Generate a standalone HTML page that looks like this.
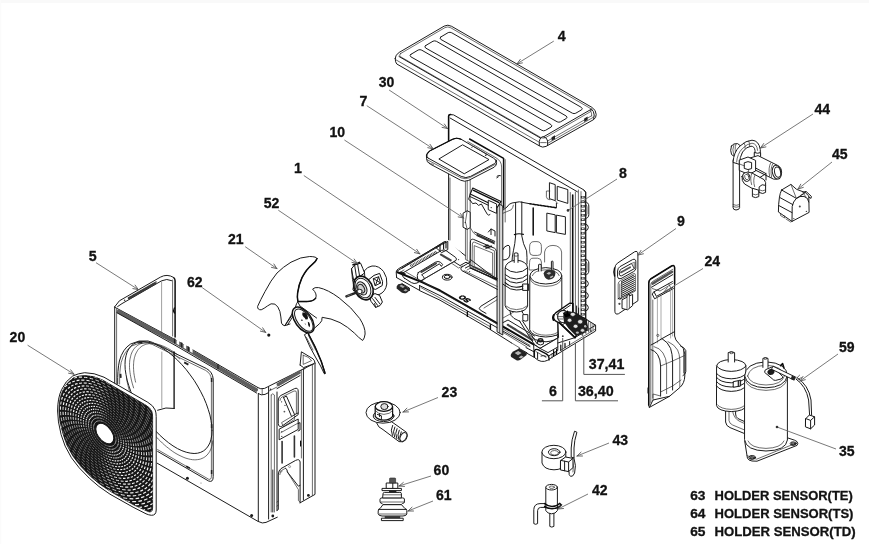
<!DOCTYPE html>
<html><head><meta charset="utf-8"><title>Exploded view</title>
<style>
html,body{margin:0;padding:0;background:#fff;}
body{width:869px;height:544px;overflow:hidden;font-family:"Liberation Sans",sans-serif;}
svg{display:block;filter:blur(0.3px);}
.l{fill:none;stroke:#1c1c1c;stroke-width:1;stroke-linecap:round;stroke-linejoin:round;}
.t{fill:none;stroke:#2e2e2e;stroke-width:0.7;stroke-linecap:round;stroke-linejoin:round;}
.k{fill:none;stroke:#0c0c0c;stroke-width:1.5;stroke-linecap:round;stroke-linejoin:round;}
.w{fill:#fff;stroke:#1c1c1c;stroke-width:1;stroke-linecap:round;stroke-linejoin:round;}
.wt{fill:#fff;stroke:#2e2e2e;stroke-width:0.7;stroke-linecap:round;stroke-linejoin:round;}
.ld{fill:none;stroke:#6a6a6a;stroke-width:0.9;}
.ah{fill:none;stroke:#555;stroke-width:0.9;stroke-linecap:round;}
.u{fill:none;stroke:#555;stroke-width:1;}
text{font-family:"Liberation Sans",sans-serif;font-weight:bold;fill:#121212;stroke:#121212;stroke-width:0.3px;}
.n{font-size:14.2px;}
.h{font-size:13px;}
</style></head><body>
<svg width="869" height="544" viewBox="0 0 869 544">
<rect x="0" y="0" width="869" height="544" fill="#fff"/>
<rect x="0" y="0" width="869" height="3" fill="#f9f9f9"/><rect x="0" y="0" width="1.2" height="544" fill="#fbfbfb"/>
<!-- 10_panel4.svg -->
<g id="p4">
<!-- outer silhouette -->
<path class="w" d="M395.2 58.5 Q395 55 399.2 52.4 L444.2 26.1 Q447.8 24.2 451.6 26.3 L591.8 107.3 Q596.2 110 596.2 114.5 Q596.2 118 593.6 119.6 L546 146.4 Q542.5 148 539.6 146 L396.8 64 Q395.2 62.5 395.2 58.5Z"/>
<!-- top face inner edge -->
<path class="t" d="M400.5 53.6 L445 27.6 Q447.8 26.2 450.8 27.8 L590.2 108.3 Q592.6 110 590.6 111.6 L545.6 137.6 Q543 138.8 540.6 137.4 L400.3 56.6 Q398.6 55.2 400.5 53.6Z"/>
<!-- left-bottom side lines -->
<path class="l" d="M399 56.5 L540.8 138.2"/>
<path class="t" d="M396.2 60 L539.2 142.2"/>
<!-- bottom corner cap -->
<path class="l" d="M539.3 145.6 V141.5 Q540 137 543.4 136.6 Q547.2 137.6 547.6 141 V145.4"/>
<path class="t" d="M540.6 142.6 H546.2"/>
<!-- front (right-bottom) side lines -->
<path class="l" d="M543.6 136.8 L591 109.4"/>
<path class="t" d="M547.6 141 L591.6 115.8"/>
<path class="t" d="M547.6 143.4 L593.8 117"/>
<!-- right corner cap -->
<path class="l" d="M591.2 108.6 Q594.2 111.5 594.2 115 L593.6 119.4"/>
<path class="t" d="M590.4 110.4 Q592 113 591.8 116"/>
<!-- small clips -->
<path d="M551.6 137.2 l3.4 -1.9 v3.6 l-3.4 1.9z" fill="#222"/>
<path d="M584.2 118.4 l3.4 -1.9 v3.6 l-3.4 1.9z" fill="#222"/>
<!-- ribs -->
<path class="l" d="M440.8 37 L448.2 32.6 Q450 31.8 451.8 32.8 L581.4 107.4 Q583 108.6 581.6 109.8 L575.8 113.2 Q574 114 572.4 113.2 L440.8 39.4 Q439.2 38.2 440.8 37Z"/>
<path class="l" d="M425.6 45.6 L433 41.2 Q434.8 40.4 436.6 41.4 L566.2 116 Q567.8 117.2 566.4 118.4 L560.6 121.8 Q558.8 122.6 557.2 121.8 L425.6 48 Q424 46.8 425.6 45.6Z"/>
<path class="l" d="M410.8 54.4 L418.2 50 Q420 49.2 421.8 50.2 L551 124.6 Q552.6 125.8 551.2 127 L545.4 130.4 Q543.6 131.2 542 130.4 L410.8 56.8 Q409.2 55.6 410.8 54.4Z"/>
</g>

<!-- 20_main_a.svg -->
<g id="main-back">
<!-- back plate 30 -->
<path class="w" d="M448.6 243 V116.2 Q448.6 114.4 450.4 114.6 L453.6 114.9 L583.8 189.9 L585.6 192 V330 L573 337 L448.6 243Z"/>
<path class="k" d="M448.6 141 V116 Q448.7 114.5 450.6 114.6" />
<path class="l" d="M450.2 118.1 L577.4 191.8"/>
<path class="t" d="M448.6 141 V243"/>
<!-- right compartment inner wall details -->
<path class="l" d="M502.6 210.4 L507 207 Q509 203.5 512 203 L519.4 201.8 L530 203.8"/>
<path class="k" d="M530 203.8 L556.4 207.8" style="stroke-dasharray:2.2 1.2"/>
<path class="l" d="M556.4 207.8 V203.2"/>

<path class="l" d="M515.6 202.4 V236 Q515 244 513.4 250.8 Q512 257 511.9 263"/>
<path class="l" d="M521.8 201.8 V236 Q523 244 526.6 250.8 Q527.2 257 527 264"/>
<path class="k" d="M533.2 208 V235" style="stroke-width:1.5"/>
<path class="k" d="M514.4 234.6 Q518.6 233 523.4 234.4" style="stroke-width:1.2"/>
<path class="l" d="M502.6 250 Q504 246 508 245.2 Q510 245.6 509.8 248 V255 Q509.4 258.6 506 259.6 L502.6 260"/>
<path class="t" d="M502.6 213.4 L511.2 209.8 Q513 208 513.4 205.2"/>
<!-- rectangular openings -->
<path class="l" d="M547.2 213.2 L555.2 214.8 V232.6 L547.2 231 Z"/>
<path class="l" d="M556.8 215.2 L565.4 216.8 V234.4 L556.8 232.8 Z"/>
<!-- flaps -->
<path class="l" d="M549.8 182.8 L555.2 184.6 V200.6 L549.8 198.8 Z"/>
<path class="t" d="M549.8 191 H546.4 V196.8 Q546.6 199.6 549.8 199.8"/>
<path class="l" d="M557.6 186.4 L567.8 189.6 V203.4 L557.6 200.2 Z"/>
<path class="t" d="M555.2 200.6 L557.6 203.4 "/>
<!-- rounded slots lower -->
<path class="t" d="M529.6 246.5 Q529.6 241.6 534 241.6 H537 Q541.4 241.8 541.4 246.6 V252 Q541.4 255.6 537.6 255.4 H533 Q529.6 255.2 529.6 252Z"/>
<path class="t" d="M529.6 262 Q529.6 258.2 533 258.2 H537.6 Q541.4 258.4 541.4 262 V270 H529.6Z"/>
<path class="t" d="M544.6 262 V252 Q546 245.4 553 245.4 Q560.6 245.6 561.6 252 V270"/>
<!-- end plate verticals -->
<path class="t" d="M570.3 192.5 V322"/>
<path class="k" d="M572.7 195 V312" style="stroke-width:1.6"/>
<path class="t" d="M575.4 192 V318"/>
<path class="t" d="M578.4 190 V320"/>
</g>

<!-- 22_main_base.svg -->
<g id="base1">
<!-- base pan silhouette (white to cover back plate bottom) -->
<path d="M396.2 272 Q396.4 270 398.4 268.8 L445.8 241.4 L448.6 240 L470 262 L497.4 289 L503 300 L530 300 L560 300 L585.6 322 L594 321.6 Q596.6 323 596 326.4 L595.4 330.6 L550.6 358.2 Q543.6 362.4 537.4 358.6 L527 352.6 L511.6 343 L419.6 290.6 L396.6 277.6Z" fill="#fff"/>
<path class="l" d="M445.8 241.4 L398.4 268.8 Q396.4 270 396.2 272 L396.6 277.6"/>
<!-- back-left rim -->
<path class="l" d="M396.9 271.2 L444.4 241.6"/>
<path class="l" d="M402.2 268.2 L438.9 246.2"/>
<path class="k" d="M410.4 266 L437 251.6" style="stroke-dasharray:0.8 0.8;stroke-width:2.6;stroke:#333;stroke-linecap:butt"/>
<path class="t" d="M399.6 272.6 L404 270"/>
<!-- corner box -->
<path class="l" d="M436.4 247.6 L441.6 244.6 L447.8 241.4 V249.6 L442 252.4 Z"/>
<path class="k" d="M440 245.6 V250.4 M443.6 243.6 V249 M446 242.4 V248" style="stroke-width:1.1"/>
<path d="M399 272.4 q1.6 -1.4 3.6 -0.6 l3.4 2 l-1.2 1.8 l-5 -2z" fill="#2a2a2a"/>
<!-- left block -->
<path class="l" d="M396.6 277.6 L419.6 290.4 V285.4"/>
<path class="k" d="M397.5 272.2 L422.4 282.4 L440 290.5 L486 316.8 L534 344.6" style="stroke-width:2"/>
<path class="l" d="M419.6 285.6 L440 295.6 L490 323.6 L530 346.6"/>
<path class="l" d="M419.6 290.6 L440 300.2 L467 315.6 M468.4 316.6 L489.6 329 M491 330 L511.6 343"/>
<path class="t" d="M421 287.6 L467 313 M468.6 314.4 L490 326.6"/>
<path class="k" d="M467.4 311.6 V316.4 M490.4 324.6 V329.6" style="stroke-width:1.4"/>
<circle cx="404.6" cy="278.4" r="0.6" fill="#333"/>
<!-- left foot -->
<path d="M398.2 284.2 Q396 285.8 396.6 288.6 L401.6 292.6 Q404.6 294.2 407.2 292.4 L409.4 290.6 L409.2 288.6 L402 283.6Z" fill="#262626"/>
<path d="M399.4 286 l3.4 2 l2 -1.2 l-3.4 -2z M403.4 290.4 l2.2 -1.4 l2.2 1.2 l-2.2 1.4z" fill="#aaa"/>
<path class="l" d="M402 283.6 L409.4 288 V290.6"/>
<!-- inner rim front-left (floor edge) -->
<path class="t" d="M406 272 L425 283"/>
<!-- drain trough area -->
<path class="l" d="M403.4 272.6 L441.6 250.4 Q444.6 249.2 446.6 251 L455.6 257.4 Q457.6 259.2 455.4 260.8 L417 283 Q414 284.2 411.4 282.6 L403.6 277.6 Q400.8 275.2 403.4 272.6Z"/>
<path class="l" d="M418.2 272.6 L435.4 262.2 Q438.2 260.8 440.4 262.2 L442.6 264.4 L441.4 266.4 L439.4 263.8 L421.6 274.8 Q424 276.4 424.4 278.8 L422.6 280.6 Q418.8 281.8 417.6 279 Q416.6 275.2 418.2 272.6Z"/>
<path class="k" d="M421.4 272 L436 263.4" style="stroke-dasharray:0.7 0.8;stroke-width:2;stroke:#444"/>
<path class="k" d="M441 254.6 L451.2 260.6" style="stroke-dasharray:0.7 0.8;stroke-width:2.2;stroke:#444"/>
<path class="t" d="M424.4 278.8 L456 260.4"/>
<path class="l" d="M454.4 262 L460 265.6 L466 262.2 L470 264.4"/>
<path class="t" d="M452.4 263.8 L458.6 268 L462.6 266"/>
<circle cx="458.6" cy="259.6" r="0.6" fill="#333"/>
<!-- hole on floor -->
<ellipse cx="447.2" cy="277.2" rx="4.8" ry="2.9" class="l"/>
<ellipse cx="447.2" cy="276.8" rx="3" ry="1.7" class="k" style="stroke-width:1"/>
<!-- OS mark -->
<text x="0" y="0" transform="matrix(-0.86 -0.5 0.86 -0.5 471.6 300.2)" style="font-size:7.6px;fill:#000;stroke:#000;stroke-width:0.5px">SO</text>
<!-- floor lines -->
<path class="t" d="M425 283 L497.4 324"/>
<path class="l" d="M497.4 296 L480.6 306.4 Q478 308.6 480.4 310.2 L486 313.4"/>
<path class="t" d="M497.4 299.6 L484 308"/>
</g>

<!-- 24_main_bracket.svg -->
<g id="bracket10">
<!-- box behind lid: thick top-back edge and right vertical -->
<path class="k" d="M469.6 139 L503.6 158.4 V208" style="stroke-width:1.5"/>
<path class="t" d="M467.8 141.6 L496 157.8 Q501.6 161 501.6 167 V205"/>
<path class="t" d="M505.2 159.6 V222"/>
<path class="l" d="M498.4 176.8 l-1.6 1 M497 176.2 q1.6 -1.4 3.4 -0.6"/>
<!-- under lid: back plate left edge doubles -->
<path class="t" d="M450 178 V240"/>
<!-- left upright -->
<path class="wt" d="M465.8 180 H470.2 V262 L465.8 259.6Z"/>
<path class="t" d="M467.2 181 V260"/>
<!-- right upright -->
<path class="w" d="M497.4 203 L502.8 206 V335 L497.4 332Z" style="fill:#d8d8d8"/>
<path class="t" d="M499.6 204 V333"/>
<!-- top beam -->
<path class="w" d="M470.2 194 L472.8 188 L501 201.4 L497.4 207.2 L470.2 194Z" style="stroke:#111;stroke-width:1.1"/>
<path class="k" d="M473.6 190.4 L498.6 202.4" style="stroke-width:1.6"/>
<path class="l" d="M470.2 194 L468.6 199.4 L470.4 200.6 M470.2 196.6 L488.6 205.4"/>
<!-- right tab -->
<path class="w" d="M488.6 200.4 L496.6 204 V213.4 L488.6 209.8Z"/>
<circle cx="491.2" cy="207.6" r="0.7" fill="#222"/>
<!-- curvy cut-out edge -->
<path class="l" d="M470.4 200.5 L472.6 203.6 L476 203 L478.6 205.4 L481.4 204 L484.8 210 L487.4 214.4 Q488.6 216 490 214.6"/>
<!-- left tab (label 10) -->
<path class="w" d="M463.4 213 L467.2 210.8 L470.2 212.2 V227.6 L467.2 229.4 L463.4 227.4Z"/>
<path class="t" d="M467.2 210.8 L465.4 222 L467.2 229.4"/>
<circle cx="465.2" cy="222.6" r="0.7" fill="#222"/>
<!-- wire curve -->
<path class="t" d="M470.4 228 Q473 234 478 236.4"/>
<!-- comb beam -->
<path class="l" d="M474.6 232 L494.8 241.4"/>
<path d="M476.6 233.6 L494.6 242 V245 L476.6 236.6Z" fill="#333"/>
<path class="t" d="M476.6 237.4 L494.6 245.8" style="stroke-dasharray:0.9 0.9;stroke:#fff;stroke-width:2.4"/>
<path class="l" d="M488.4 232 L491 229 L495 231 V236 M491 229 V234.6"/>
<path class="k" d="M484 246.6 l4 -1.4 M486 248 l5.4 -1.8"/>
<!-- lower frame opening -->
<path class="l" d="M470.4 241.6 Q470.6 238.4 473.6 239.4 L494.4 248.2 Q496.4 249.2 496.4 251.6 V279.4 L470.4 268Z"/>
<path class="t" d="M472.4 243.6 Q472.6 241.4 474.6 242.2 L494.4 250.8 V276.6 L472.4 267Z"/>
<path class="t" d="M474.2 246 V266.4 L492.6 274.6 V253.4Z"/>
<path class="k" d="M470.4 268 L496.4 279.4" style="stroke-width:1.2"/>
<!-- foot plate of bracket -->
<path class="l" d="M470.2 262 L461.6 267.2 Q459.8 268.8 461.8 270.6 L497.4 289.4"/>
<path class="l" d="M465.4 268 L470.6 265.2 L497.4 278.6"/>
<path class="t" d="M467 270 L471.4 267.6 L497.4 281"/>
<path class="t" d="M464 270.6 L497.4 286.6"/>
<circle cx="469.6" cy="271.6" r="0.6" fill="#222"/>
</g>

<!-- 26_main_comp.svg -->
<g id="inside-comp">
<!-- floor right compartment: rims -->
<path class="l" d="M503 322.6 L508 320 L534.6 336 "/>
<path class="k" d="M507.8 324.8 L532.4 340" style="stroke-dasharray:0.7 0.8;stroke-width:2.2;stroke:#444"/>
<path class="t" d="M503 329 L530 345.4"/>
<path class="t" d="M503 332.4 L527 347"/>
<path class="t" d="M503 318 L519 309 "/>
<!-- accumulator -->
<path class="w" d="M505.2 268 Q505.6 261.4 516.4 260 Q527.2 261.4 527.6 268 V306 Q526 311.6 516.4 312 Q506.6 311.6 505.2 306Z"/>
<path class="w" d="M514.2 262.4 V253.4 Q516 252.2 518 253.4 V262.4"/>
<path class="t" d="M514.2 255.8 Q516 256.8 518 255.8"/>
<path class="l" d="M505.2 268 Q510 272.4 516.4 272.4 Q523 272.4 527.6 268"/>
<path class="l" d="M505.2 274.6 Q510 279 516.4 279 Q523 279 527.6 274.6"/>
<path class="l" d="M505.2 278.6 Q510 283 516.4 283 Q523 283 527.6 278.6"/>
<path class="k" d="M505.2 282.6 Q510 287.2 516.4 287.2 Q520 287.2 523 286" style="stroke-width:1.1"/>
<path class="l" d="M505.2 285.6 Q510 290 516.4 290 Q520 290 523 289"/>
<path class="l" d="M523 284 H528.6 V290.4 H523Z"/>
<path class="t" d="M506 306 Q510 309.6 516.4 309.6 Q523 309.6 527 306"/>
<!-- accumulator bottom pipes -->
<path class="l" d="M510 311.4 Q510 316 514 318.4 L520 321.4"/>
<path class="l" d="M522 311 Q522 313.6 524 314.6"/>
<path class="w" d="M523.2 314.6 H527.8 V320.6 Q525.4 321.8 523.2 320.6Z"/>
<!-- compressor -->
<path class="w" d="M529.8 276 Q530 268.6 545.8 267.6 Q561.6 268.6 561.8 276 V330 Q560 336.4 545.8 337 Q531.6 336.4 529.8 330Z"/>
<path class="l" d="M529.8 276 Q531.6 283.6 545.8 284 Q560 283.6 561.8 276"/>
<path class="t" d="M529.8 278.4 Q531.6 286 545.8 286.4 Q560 286 561.8 278.4"/>
<path class="t" d="M532.4 275.6 Q534 270.2 545.8 269.8 Q557.6 270.2 559.2 275.6"/>
<path class="w" d="M538.6 271 V264.6 Q539.8 263.8 541.2 264.6 V271"/>
<path class="w" d="M551.4 269.6 V261.4 Q552.2 260.8 553 261.4 V269.6"/>
<path d="M543.6 273.4 Q544.6 269.8 549.6 269.6 L554.6 270.6 Q556 272.6 555 275.6 Q553.6 279.4 548.6 279.8 Q544.4 278.6 543.6 273.4Z" fill="#2d2d2d"/>
<path d="M546.4 273.4 l2.6 -1.4 l2.4 1 l-2.4 1.8z M549.6 277 l3 -1.6 l0.8 1.2 l-2.6 1.6z" fill="#bbb"/>
<path class="t" d="M533 331 Q536 335 545.8 335.2 Q556 335 559 331"/>
<!-- compressor base plate & legs -->
<path class="l" d="M519.4 320.8 L534.8 345.2 M522.4 320.8 L537 343.6"/>
<path class="l" d="M528.6 334 Q534 341.6 546 341.8 Q555 341 559.4 336.6"/>
<path class="l" d="M534.6 344.6 L540 348.4 L558.6 337.6 L556.8 335.4"/>
<path d="M537.6 340.2 a2.9 2.2 0 1 0 5.8 0 a2.9 2.2 0 1 0 -5.8 0z" fill="#1a1a1a"/>
<path d="M539.2 339.8 a1.3 0.8 0 1 0 2.6 0 a1.3 0.8 0 1 0 -2.6 0z" fill="#888"/>
<path class="l" d="M537.6 341 V344 Q540.4 346 543.4 344 V341"/>
</g>

<!-- 28_main_right.svg -->
<g id="main-right">
<!-- end plate right strip and coil -->
<path class="l" d="M583.8 190 L585.8 192.4 V320"/>
<path class="t" d="M581 191.6 V318"/>
<path d="M582.8 196 V322" stroke="#303030" stroke-width="4" stroke-dasharray="2.4 2.1" fill="none"/>
<path d="M582.8 196.6 V322" stroke="#f0f0f0" stroke-width="1.7" stroke-dasharray="1.2 3.3" fill="none"/>
<path class="l" d="M585 201.8 Q588.8 202.4 588.8 206 V214.6 Q588.8 218.2 585 218.6"/>
<path class="t" d="M585 204 Q587 204.4 587 207 V213.6 Q587 216 585 216.4"/>
<path class="l" d="M585 223.8 Q588.4 224.6 588.4 227.4 Q588.4 230.4 585 231"/>
<path class="l" d="M585 259 Q588.8 259.6 588.8 263 V271 Q588.8 274.6 585 275"/>
<path class="t" d="M585 261 Q587 261.6 587 264 V270 Q587 272.6 585 273"/>
<path class="l" d="M585 280 Q588.4 280.8 588.4 283.6 Q588.4 286.6 585 287.2"/>
<path class="l" d="M585 292 Q588.4 292.8 588.4 295.6 Q588.4 298.6 585 299.2"/>
<path class="l" d="M585 304 Q588.4 304.8 588.4 307.6 Q588.4 310.6 585 311.2"/>
<!-- front corner of base and right-front face -->
<path class="w" d="M534 344.6 L540 348.4 L558.6 337.6 L557.8 322.6 L560 322.6 L575 337.6 L586.6 319.6 L595.6 325.2 V331 L551 358 Q544.4 363.6 538 360.2 L534.4 357.4Z"/>
<path class="k" d="M534.4 357 V351.6 Q534.6 348.6 538 349.6 L545.8 353.6 Q549 355.4 549 358 V360" style="stroke-width:1.3"/>
<path class="l" d="M537.6 352.6 V358.6 M541 356 Q543.6 354.6 546 356.4"/>
<path class="t" d="M536 351.6 L546 357.4"/>
<path class="l" d="M540 348.4 L548 352.6 L557.8 347"/>
<path class="l" d="M548.6 356 L557.8 350.4 V322.6"/>
<path class="t" d="M552 353.8 V358 M555 352 V355.6"/>
<path class="l" d="M557.8 343 L575 337.6 L595.6 325.2"/>
<path class="t" d="M560.8 350.2 L595.6 329"/>
<path class="k" d="M553.6 350.6 V356 M556.6 349 V354.4 M560.8 345 V350.4 M565 343.4 V347.6" style="stroke-width:1.2"/>
<path class="l" d="M569.6 341.6 V345"/>
<circle cx="562.8" cy="336.2" r="0.9" fill="#333"/>
<!-- bracket plate -->
<path class="w" d="M553.6 317.4 Q553.4 314.6 556 312.6 L569.6 303.2 L572.8 303.4 V312 L586.6 319.6 L575 337.6 L559.6 322.8 Q554 321.4 553.6 317.4Z" style="stroke:#0c0c0c;stroke-width:1.3"/>
<path class="l" d="M556.6 314.6 L570.4 305.2 M558 318.6 Q557.6 313.6 562.4 310.4"/>
<path class="k" d="M559.6 322.8 L575 337.6" style="stroke-width:1.8"/>
<path class="l" d="M562 325.2 L565.6 322.6 L578.4 335"/>
<path class="k" d="M553.8 314.8 q-1.8 2.4 -0.4 5.4" style="stroke-width:1.6"/>
<!-- valve body big -->
<ellipse cx="563.2" cy="316.6" rx="5.6" ry="6.2" class="w" style="stroke-width:1.1"/>
<path class="t" d="M557.8 316.6 H563 M558 319 H562.6"/>
<!-- dark cluster -->
<path d="M563.6 312.6 Q566.6 309.8 570.4 311.6 L577 313 L586.6 320.6 L588.8 329.4 L583.6 333.6 L576 336 L568.6 328.6 L564 322 Q562.6 317 563.6 312.6Z" fill="#1e1e1e"/>
<path d="M565.6 317.2 l-3 -4.6 l3.6 1.6 l1.2 -4.4 l1.4 4.2 l3.8 -1.4 l-2.8 3.6z" fill="#000"/>
<ellipse cx="572.8" cy="314.3" rx="2.5" ry="2.1" fill="#e4e4e4" stroke="#111" stroke-width="0.6"/>
<ellipse cx="569.6" cy="320.3" rx="2.3" ry="2" fill="#e4e4e4" stroke="#111" stroke-width="0.6"/>
<ellipse cx="580.2" cy="321.7" rx="2.6" ry="2.2" fill="#e4e4e4" stroke="#111" stroke-width="0.6"/>
<ellipse cx="575.6" cy="326.3" rx="2.4" ry="2" fill="#e4e4e4" stroke="#111" stroke-width="0.6"/>
<ellipse cx="582.5" cy="330.4" rx="2.2" ry="1.8" fill="#dcdcdc" stroke="#111" stroke-width="0.6"/>
<ellipse cx="577.4" cy="332.6" rx="1.5" ry="1.2" fill="#bbb"/>
<ellipse cx="585.4" cy="326.2" rx="1.4" ry="1.2" fill="#bbb"/>
<!-- pipes up from valves -->
<path class="k" d="M572.8 303.4 V312" style="stroke-width:1.3"/>
<path class="l" d="M576.6 306 V314 M578.6 308 V316" />
<!-- right plate holes -->
<path class="l" d="M586.6 319.6 V326"/>
<path class="t" d="M588.6 321 V332 M590.8 322.4 V331 M593 323.8 V329.6"/>
<path d="M587.2 327.4 l1.8 1.1 v2.8 l-1.8 -1.1z M589.8 329 l1.8 1.1 v2.4 l-1.8 -1.1z M584.4 330.8 l2 1.2 v2 l-2 -1.2z M581.2 333.2 l2 1.2 v1.8 l-2 -1.2z" fill="#555"/>
<path class="l" d="M526.8 353.2 L534.4 357.4 M526 347.6 L534.4 352"/>
<!-- right foot -->
<path d="M513.2 351.4 L519 348.4 L526.8 353 L526.6 355 L520.4 359.8 Q518.2 361.2 516 360 L511.2 357 Q509.6 354.8 513.2 351.4Z" fill="#242424"/>
<path d="M514.6 353 l3.6 -2 l3.4 2 l-3.6 2.2z M518.6 357.4 l2.6 -1.8 l2.4 1.2 l-2.6 1.8z" fill="#b5b5b5"/>
<path class="t" d="M511.6 343 L519.6 347.8"/>
<path class="l" d="M519 348.4 L527 352.8"/>
</g>

<!-- 40_lid7.svg -->
<g id="lid7">
<!-- underside / thickness -->
<path class="w" d="M426.4 156 Q426.2 158.8 427.4 161.6 Q428.6 163.2 430.4 164.2 L460.6 180.2 Q464.6 182.2 468.6 180.4 L494.2 167.2 Q496.8 165.4 496.6 162.4 L496.4 160 L426.4 156Z"/>
<path class="t" d="M427 159.6 L461 177.8 Q465 179.6 469.4 177.8 L496 164"/>
<path class="t" d="M428 162 Q429.8 164 433.4 164.4"/>
<!-- top face -->
<path class="w" d="M428 158 Q425 156 427.8 153.2 Q428.6 151.6 430.6 150.4 L452.2 139.4 Q456.6 137.2 461 139.2 L493.6 158.2 Q497.6 160.8 494.6 163.6 L470.6 176.4 Q465.8 178.8 461.2 176.4 L428 158Z"/>
<path class="k" d="M426.8 156.4 Q426.2 154 428.6 152 Q429.6 151 430.6 150.4 L452.2 139.4 Q456.6 137.2 461 139.2" style="stroke-width:1.1"/>
<!-- inner square -->
<path class="l" d="M439.2 158.8 L462.6 144.8 L489 159.6 L464.6 173.6Z"/>
<path class="t" d="M471.6 147.4 L473.4 146.4 L486.8 154.2 L485.6 155.2"/>
<circle cx="485.8" cy="155.2" r="0.7" fill="#222"/>
</g>

<!-- 50_cabinet5.svg -->
<g id="cab5">
<path d="M114.7 307 L119.2 301 L160.3 277.2 Q166.8 273.6 173.9 277.9 L175.1 280 V337 L257.7 387.6 L262.2 389 L300.1 365.1 L301.4 351.6 L313 358.7 L315 362 V494.4 L300.1 502.8 V460 L278 472 V517 L262.8 523.6 L258 521.4 L157 463 L114.7 439Z" fill="#fff"/>
<path class="l" d="M114.7 306.8 L119.4 300.8 L160.3 277.2 Q167 273.4 173.6 277.4" />
<path class="l" d="M117.6 306.6 L122 303.6 L161.6 280.8 Q166.8 278.2 171.6 280.6" />
<path class="k" d="M129 298.2 L155.4 283" stroke-linecap="butt" style="stroke-dasharray:0.9 0.8;stroke-width:2.6;stroke:#3a3a3a"/>
<circle cx="124.6" cy="300.2" r="0.8" fill="#333"/><circle cx="156" cy="282" r="0.8" fill="#333"/>
<path class="k" d="M173.9 277.9 Q175 278.6 175.1 281 V337" style="stroke-width:1.5"/>
<path class="t" d="M172.6 280 V336" />
<path class="k" d="M174.4 308 q-1.4 2.4 0 5" style="stroke-width:1.4"/>
<path class="t" d="M161.6 281.6 V332.6" style="stroke:#777"/>
<path class="l" d="M114.7 307 V395" />
<path class="t" d="M116.6 309 V395" />
<path class="l" d="M114.7 307.2 L175 339.6 L257.6 387.4" />
<path class="k" d="M118.6 311.6 L178 343.6 L256 389.8" stroke-linecap="butt" style="stroke-dasharray:0.9 0.8;stroke-width:4;stroke:#5e5e5e"/>
<path class="l" d="M117 312.8 L176 345.8 L256.6 393" />
<path d="M176.6 339.4 l2.6 1.5 v4.4 l-2.6 -1.5z M183.6 343.4 l2.6 1.5 v4.4 l-2.6 -1.5z M190 347 l2.6 1.5 v4.4 l-2.6 -1.5z" fill="#fff"/>
<path d="M174.6 338.6 v5 M181.6 342.6 v5 M188.4 346.4 v5 M218 364 v5" stroke="#222" stroke-width="1.3"/>
<path class="l" d="M157.2 463.2 L258 521.4 Q262.6 524 266 522.4 L277.3 517.2" />
<circle cx="187.4" cy="478.2" r="1.5" fill="#1a1a1a"/><circle cx="251.6" cy="515.6" r="1.5" fill="#1a1a1a"/><circle cx="201" cy="483" r="0.5" fill="#555"/>
<path class="l" d="M117.7 384 Q117.4 370 119.4 361 Q122.6 349 130.6 344 Q139 339.6 148 341 L152.5 342.4 L206.5 368.6 Q212.6 372 213.2 379 V476.6 Q213.2 482.8 208.6 481 L157.6 451.4" />
<path class="t" d="M119.6 384 Q119.4 371 121.2 362.4 Q124.2 351.2 131.6 346 Q139.4 341.8 147.6 343 L152.2 344.4 L205.6 370.4 Q211 373.4 211.4 379.6 V476 Q211.4 480.2 208.6 479.2 L157.6 449.6" />
<path class="l" d="M212.0 430.5 L211.8 435.0 L211.0 439.2 L209.9 442.9 L208.2 446.0 L206.2 448.7 L203.7 450.8 L200.8 452.3 L197.6 453.2 L194.1 453.5 L190.2 453.1 L186.2 452.2 L181.9 450.7 L177.5 448.6 L173.0 445.9 L168.5 442.7 L164.0 439.0 L159.5 434.9 L155.1 430.3 L150.8 425.4 L146.8 420.1 L142.9 414.7 L139.4 409.0 L136.2 403.2 L133.3 397.4 L130.8 391.5 L128.8 385.7 L127.1 380.1 L126.0 374.6 L125.2 369.4 L125.0 364.5 L125.2 360.0 L126.0 355.8 L127.1 352.1 L128.8 349.0 L130.8 346.3 L133.3 344.2 L136.2 342.7 L139.4 341.8 L142.9 341.5 L146.7 341.9 L150.8 342.8 L155.1 344.3 L159.5 346.4 L164.0 349.1 L168.5 352.3 L173.0 356.0 L177.5 360.1 L181.9 364.7 L186.2 369.6 L190.2 374.9 L194.1 380.3 L197.6 386.0 L200.8 391.8 L203.7 397.6 L206.2 403.5 L208.2 409.3 L209.9 414.9 L211.0 420.4 L211.8 425.6 L212.0 430.5" />
<path class="t" d="M212.8 440.9 L212.5 442.9 L212.2 444.8 L211.7 446.5 L211.2 448.2 L210.5 449.8 L209.8 451.3 L208.9 452.7 L208.0 453.9 L207.0 455.1 L205.9 456.1 L204.7 457.0 L203.4 457.8 L202.1 458.4 L200.6 459.0 L199.1 459.4 L197.6 459.6 L195.9 459.8 L194.3 459.8 L192.5 459.7 L190.7 459.4 L188.9 459.0 L187.0 458.5 L185.0 457.9 L183.1 457.1 L181.1 456.2 L179.0 455.2 L177.0 454.1 L174.9 452.9 L172.8 451.5 L170.7 450.0 L168.7 448.4 L166.6 446.8 L164.5 445.0 L162.4 443.1 L160.4 441.1 L158.3 439.1 L156.3 437.0 L154.3 434.7 L152.4 432.5 L150.5 430.1 L148.6 427.7 L146.8 425.2 L145.1 422.7 L143.4 420.1 L141.7 417.5 L140.1 414.9 L138.6 412.2 L137.2 409.5 L135.8 406.8 L134.6 404.1 L133.3 401.4 L132.2 398.7 L131.2 396.0 L130.2 393.4 L129.4 390.7 L128.6 388.1 L128.0 385.5 L127.4 383.0 L126.9 380.5 L126.5 378.0" />
<path class="t" d="M133.6 387.9 L133.0 385.9 L132.4 383.9 L131.9 382.0 L131.4 380.1 L131.0 378.2 L130.6 376.3 L130.3 374.5 L130.0 372.7 L129.8 370.9 L129.6 369.1 L129.5 367.4 L129.5 365.8 L129.5 364.2 L129.6 362.6 L129.7 361.1 L129.9 359.6 L130.2 358.2 L130.5 356.8 L130.8 355.5 L131.2 354.2 L131.7 353.0 L132.2 351.8 L132.8 350.8 L133.4 349.7 L134.1 348.8 L134.8 347.9 L135.6 347.1 L136.4 346.3 L137.3 345.6 L138.2 345.0 L139.2 344.4 L140.2 343.9 L141.2 343.5 L142.3 343.2 L143.5 342.9 L144.6 342.7 L145.9 342.6 L147.1 342.5 L148.4 342.6 L149.7 342.7 L151.0 342.8 L152.4 343.1 L153.8 343.4 L155.2 343.8 L156.7 344.2 L158.1 344.7 L159.6 345.3 L161.1 346.0 L162.6 346.7 L164.2 347.5 L165.7 348.4 L167.3 349.4 L168.8 350.4 L170.4 351.4 L172.0 352.5 L173.5 353.7 L175.1 355.0 L176.7 356.3 L178.2 357.6 L179.8 359.0" />
<path class="t" d="M135.6 382.1 L135.2 380.4 L134.9 378.8 L134.5 377.2 L134.3 375.6 L134.0 374.0 L133.8 372.4 L133.7 370.9 L133.6 369.4 L133.5 367.9 L133.5 366.5 L133.5 365.1 L133.6 363.7 L133.7 362.4 L133.8 361.1 L134.0 359.8 L134.3 358.6 L134.5 357.4 L134.9 356.3 L135.2 355.2 L135.6 354.1 L136.1 353.1 L136.6 352.2 L137.1 351.3 L137.6 350.4 L138.2 349.6 L138.9 348.8 L139.6 348.1 L140.3 347.4 L141.0 346.8 L141.8 346.2 L142.6 345.7 L143.5 345.3 L144.4 344.9 L145.3 344.5 L146.2 344.2 L147.2 344.0 L148.2 343.8 L149.3 343.6 L150.3 343.6 L151.4 343.5 L152.5 343.6 L153.7 343.7 L154.9 343.8 L156.0 344.0 L157.3 344.2 L158.5 344.6 L159.7 344.9 L161.0 345.3 L162.3 345.8 L163.6 346.3 L164.9 346.9 L166.2 347.5 L167.5 348.2 L168.8 348.9 L170.2 349.7 L171.5 350.5 L172.9 351.4 L174.3 352.3 L175.6 353.3 L177.0 354.3" />
<path d="M138.6 341.2 l4 0.6 l-0.4 2 l-4 -0.6z M184.6 361.6 l4.2 2.2 l-0.8 1.6 l-4.2 -2.2z M119.6 374 l1.8 -0.2 l0.3 4 l-1.8 0.2z M186.6 465.4 l3.6 2 l-0.8 1.6 l-3.6 -2z" fill="#222"/>
<path d="M211.6 378 v4 M211.6 424 v4 M211.6 470 v4" stroke="#222" stroke-width="1.5"/>
<path class="t" d="M161.8 352 V407.6" style="stroke:#777"/>
<path class="k" d="M174.1 352 V408.4" style="stroke-width:1.3"/>
<path class="l" d="M157.6 410.2 Q166 406.6 174.1 408.4" />
<path class="l" d="M257.7 387.6 Q260.6 389.6 264.6 388.4 L267.3 387 L313.7 363.8" />
<path class="l" d="M258.3 393.6 V521" />
<path class="l" d="M258.3 393.6 Q261 395.8 265 394.4 L268.6 392.6" />
<path class="t" d="M262.2 389 V394.6" />
<path class="l" d="M268.6 387 V519" />
<path class="k" d="M278.3 384.4 L299 372.4" stroke-linecap="butt" style="stroke-dasharray:0.9 0.8;stroke-width:3.6;stroke:#5e5e5e"/>
<path class="l" d="M277 388.6 L300 375.6" />
<path class="t" d="M269 391 L277 387" />
<path class="l" d="M300.1 365.1 L301.4 351.8 L313 358.8 Q315 360.4 315 363.4" />
<path class="t" d="M303.2 355.2 V364.4 L311.6 360.6 Q309 356.6 303.2 355.2" />
<path class="l" d="M300.1 365.1 L303.6 367.6 L313.7 363.8" />
<circle cx="304.6" cy="368.6" r="0.8" fill="#333"/><circle cx="270.6" cy="389.4" r="0.8" fill="#333"/>
<path class="l" d="M315 363 V494.4 L300.1 502.8" />
<path class="t" d="M312.4 365 V495.4" />
<path class="l" d="M303.4 369 V500" />
<path class="t" d="M301.4 370 V458" />
<path class="t" d="M271.2 395 Q272.8 392.4 274.4 395 V512" />
<path class="t" d="M271.2 395 V512" />
<path class="k" d="M272.8 470 V512" style="stroke-width:0.9"/>
<circle cx="272.8" cy="516" r="1.4" fill="#1a1a1a"/><circle cx="308.4" cy="495.4" r="1.4" fill="#1a1a1a"/>
<path class="l" d="M277 392 V510.4" />
<path class="l" d="M278.3 399.6 Q278.6 396.6 281 395.4 L294.6 388.6 Q298 387.2 298.2 391 V414.6 L281.6 426.4 Q278.6 427.4 278.3 424Z" />
<path class="t" d="M280 400.4 Q280.2 398 282 397 L294 391 Q296.4 390.2 296.4 392.6 V413.4" />
<path class="l" d="M283.6 397.6 L286.4 396 L294.6 414.6 L298 413 M283.6 397.6 L291.6 416.6 L294.6 414.6" />
<path class="t" d="M291.6 416.6 L281.6 422.6 L283 426 M294.6 414.6 V419.4 L283.4 426.6" />
<circle cx="281.6" cy="401.8" r="0.6" fill="#333"/><circle cx="285" cy="405.4" r="0.6" fill="#333"/><circle cx="284.4" cy="411.6" r="0.9" fill="#555"/>
<path class="l" d="M279.5 429 L298.2 419 V429.4 L279.5 439.6Z" />
<path class="t" d="M281 432.6 L298.2 423" />
<path class="l" d="M298.2 423.6 L300 422.6 V430 L298.2 431" />
<circle cx="281.8" cy="431.6" r="0.6" fill="#333"/><circle cx="281.8" cy="436.4" r="0.6" fill="#333"/>
<path class="k" d="M282.1 441.6 V463" style="stroke-width:1.6;stroke:#333"/>
<path class="k" d="M294.4 436 V457" style="stroke-width:1.6;stroke:#333"/>
<path class="k" d="M300.6 441 v5" style="stroke-width:1.2"/>
<path class="l" d="M277 510.4 L278.3 509.6 V474 Q278.6 470.6 281 468.6 L295.6 460.4 Q299.6 458.4 300.1 462 V502.8" />
<path class="t" d="M279.8 474.6 Q280 471.6 282 470.2 L285.6 468.2" />
<path class="l" d="M285.6 468.2 Q287.6 469.8 287.4 472 L298.4 486.2 L300 485.4" />
<path class="t" d="M287.4 472 L298.4 489.6 V500.6 L300 502" />
<circle cx="289.6" cy="466.6" r="1" fill="none" stroke="#444" stroke-width="0.5"/><circle cx="281" cy="471.4" r="0.9" fill="none" stroke="#444" stroke-width="0.5"/>
<path class="t" d="M277 502 l1.3 -0.8 M277 506 l1.3 -0.8" />
</g>
<!-- 55_fan21.svg -->
<g id="fan21">
<!-- blade 2 (right) -->
<path class="w" d="M297.9 301.6 L306.8 301.6 Q313 301.6 315.6 298.4 Q317.6 294 312.6 289.1 Q314.6 287 318.6 287.6 Q328 289.6 339.1 297.9 Q352 307.6 359.7 318.5 Q365.4 327.4 365.1 334 Q364.6 338.6 362.6 340.5 Q358.6 337.6 354.3 333 Q348 327 340 322.6 Q331 318.2 322.1 317.3 Q322.6 321 319.6 323.6 L313.6 329Z"/>
<!-- blade 1 (upper-left) -->
<path class="w" d="M317.1 258.4 Q316.6 256.6 309.7 256.5 Q301 256.6 291 262.2 Q283 267 277 273 Q271 280 265 291.6 Q260.4 300 257.6 306.4 Q257.4 310 261.2 309.8 Q264 308.6 267.4 306 Q271 302.6 274.9 304.1 Q278.4 306.4 279.9 311.5 Q281 316.6 281.5 323.1 Q282.4 325.6 284.9 325.6 L293.4 313.4 L296.5 303.8 L297.9 301.6 Q297 296.6 297.6 293 Q298.6 285 302 277.6 Q306 269.6 312.6 264.1 Q316.6 260.6 317.1 258.4Z"/>
<path class="k" d="M316.8 259 Q316 261.4 312.6 264.1 Q306 269.6 302 277.6 Q298.6 285 297.6 293 Q297 296.6 297.9 301.6 L306.8 301.6 Q313 301.6 315.6 298.4"/>
<!-- blade 3 (bottom, edge-on) -->
<path class="w" d="M304.6 335 L310 347 L316 358 L320.6 366 L324.2 373.6 Q325.4 374.8 325 372 L321.2 361.2 L314.8 346.4 L308 333Z"/>
<path class="k" d="M308.4 334 L314.8 346.4 L321.2 361.2 L324.9 373.4" style="stroke-width:1.5"/>
<path class="t" d="M306.4 337.4 L313 350 M308.6 335.6 L315.6 350"/>
<!-- root struts left of hub -->
<path class="l" d="M284.9 325.6 L293.4 311.6 M287.4 325 L295 313.4 M284.9 325.6 L290 324"/>
<!-- hub -->
<g transform="rotate(54 303.2 320)">
<ellipse cx="303.2" cy="320" rx="14.8" ry="8" class="w" style="stroke-width:1.5;stroke:#111"/>
<ellipse cx="303.6" cy="319.6" rx="13" ry="6.4" class="l"/>
</g>
<path d="M302.4 312.6 q3 -0.8 4.4 1.6 q1.6 2.6 1 5 l-2.2 0.4 q-0.6 -2 -2 -2.6 q-2 -1.8 -1.2 -4.4z" fill="#111"/>
<path d="M307.8 321.8 q1.8 0.4 2.2 2.6 q0.2 2 -0.8 2.8 q-1.4 -2.4 -1.4 -5.4z M301.6 319.2 q1.2 0.2 1.2 1.4 q-1 0.8 -1.6 -0.2z M304.6 323.4 q1.2 0 1.4 1 q-0.8 0.6 -1.4 -1z" fill="#111"/>
<path class="l" d="M301.4 307 L316.6 318"/>
<!-- screw 62 -->
<circle cx="268.8" cy="335.1" r="1.6" fill="#151515"/>
</g>

<!-- 56_motor52.svg -->
<g id="motor52">
<!-- rear body -->
<path class="w" d="M364.6 270.6 Q367 266.8 372 266 Q379 265.4 383.6 271.6 Q387.6 277.6 386.8 284 Q385.6 292 379.1 294.6 Q372 296 366 290Z"/>
<!-- top leg -->
<path class="w" d="M351.6 268.6 L354.6 265 L360.6 263.2 L362.8 268.4 L364.6 273 L359 277 L354 280Z" style="stroke:#111;stroke-width:1"/>
<path class="l" d="M354.6 265 L356.6 278 M357.6 264.2 L359.6 276"/>
<path class="k" d="M353 264.8 L356.8 263.6 L359.4 262.4" />
<!-- right leg -->
<path class="w" d="M368.2 280 L374 275.4 L379.6 273.4 L382.6 281.6 L382.2 285.6 L375.6 289.4 L370.2 288Z" style="stroke:#111;stroke-width:1"/>
<path class="l" d="M373.6 278.6 L378.6 276.8 L380.6 283 L375.4 285.6Z M373.6 278.6 L380.6 283 M378.6 276.8 L375.4 285.6"/>
<!-- bottom leg -->
<path class="w" d="M369.6 296 L375 293.6 L379.6 295.4 L382.4 302 L380 305.6 L375.6 307.4 L371.2 301.6Z" style="stroke:#111;stroke-width:1"/>
<path class="l" d="M372.6 298.6 L377.6 305.4 M375 297.4 L380 304 M375.6 307.4 L374.6 303.6"/>
<!-- front flange -->
<g transform="rotate(62 363.4 288)">
<ellipse cx="363.4" cy="288" rx="12.4" ry="9" class="w" style="stroke:#111;stroke-width:1.7"/>
<ellipse cx="363.2" cy="288.4" rx="10.4" ry="7.2" class="l"/>
<ellipse cx="363" cy="289.6" rx="7" ry="4.6" class="w" style="fill:#e4e4e4"/>
<ellipse cx="363" cy="290.2" rx="4.6" ry="3" class="l" style="fill:#cfcfcf"/>
</g>
<!-- shaft -->
<path d="M346.4 296.4 L359.6 291.4" stroke="#222" stroke-width="2.4" stroke-linecap="round" fill="none"/>
<path d="M346.8 296.2 L352 294.2" stroke="#999" stroke-width="1" stroke-dasharray="0.7 0.7" fill="none"/>
<path class="w" d="M356.6 290.6 q3 -2.4 5.4 -0.6 q0.6 2.4 -1.4 3.8 q-2.6 0.8 -4 -3.2z"/>
<path class="l" d="M353.2 287.6 q-1 2 0.4 3.4 M351.6 268.6 Q351.8 280 354.6 289"/>
</g>

<!-- 60_grille20.svg -->
<g id="grille20">
<defs><clipPath id="gclip"><path d="M73.2 378 Q78.6 375.6 84.7 375.6 Q93.6 375.6 102.6 380 L145.6 405 Q150.4 407.8 151.8 411.4 Q152.6 413.6 152.6 417 V508 Q152.6 512 150 512 Q148.4 511.8 146 510.6 L133.1 504.6 L110.8 491.6 Q98.8 484.2 90.4 476.2 Q79.6 466 73 456.2 Q65.8 445 63 433.8 Q59 421 59 411 Q59 398.6 62.8 390.4 Q66.4 382.6 73.2 378Z"/></clipPath></defs>
<path d="M72.7 376 Q78 373.4 84.7 372.7 Q94 372.6 104 377.2 L147.8 402.3 Q153.4 405.6 155.2 410 Q156.2 412.6 156.2 416.5 V510 Q156.2 515.4 151.4 515.3 Q148.6 515 146 513.8 L133.1 507.2 L110 494.2 Q98 486.6 89.4 478.3 Q78 467.6 71.4 457.7 Q64 446 61.1 434.6 Q57.6 421 57.6 411 Q57.6 398 61.6 389.6 Q65.4 381 72.7 376Z" fill="#fff" stroke="#1a1a1a" stroke-width="1"/>
<path d="M73.2 378 Q78.6 375.6 84.7 375.6 Q93.6 375.6 102.6 380 L145.6 405 Q150.4 407.8 151.8 411.4 Q152.6 413.6 152.6 417 V508 Q152.6 512 150 512 Q148.4 511.8 146 510.6 L133.1 504.6 L110.8 491.6 Q98.8 484.2 90.4 476.2 Q79.6 466 73 456.2 Q65.8 445 63 433.8 Q59 421 59 411 Q59 398.6 62.8 390.4 Q66.4 382.6 73.2 378Z" fill="#161616" stroke="#111" stroke-width="0.8"/>
<g clip-path="url(#gclip)" fill="none" stroke="#f2f2f2" stroke-linecap="butt">
<path stroke-width="0.4" d="M104.6 444.7Q104.2 444.5 103.8 444.2M103.3 443.9Q102.9 443.6 102.5 443.3M102.0 442.9Q101.6 442.6 101.2 442.2M100.7 441.8Q100.3 441.4 99.9 441.0M99.5 440.5Q99.1 440.1 98.7 439.7M98.3 439.2Q98.0 438.7 97.6 438.3M97.3 437.7Q96.9 437.3 96.7 436.8M96.3 436.2Q96.0 435.8 95.8 435.3M95.5 434.7Q95.3 434.2 95.1 433.8M94.8 433.2Q94.6 432.7 94.5 432.2M94.3 431.6Q94.1 431.2 94.0 430.7M105.0 422.5Q105.4 422.7 105.8 423.0M106.3 423.3Q106.7 423.6 107.1 423.9M107.6 424.3Q108.0 424.6 108.4 425.0M108.9 425.4Q109.3 425.8 109.7 426.2M110.1 426.7Q110.5 427.1 110.9 427.5M111.3 428.0Q111.6 428.5 112.0 428.9M112.3 429.5Q112.7 429.9 112.9 430.4M113.3 431.0Q113.6 431.4 113.8 431.9M114.1 432.5Q114.3 433.0 114.5 433.4M114.8 434.0Q115.0 434.5 115.1 435.0M115.3 435.6Q115.5 436.0 115.6 436.5M105.0 447.5Q104.5 447.2 104.0 446.9M103.4 446.5Q102.9 446.1 102.3 445.8M101.7 445.3Q101.2 444.9 100.7 444.5M100.1 444.0Q99.6 443.5 99.2 443.1M98.6 442.5Q98.1 442.0 97.7 441.5M97.2 440.8Q96.7 440.3 96.3 439.8M95.9 439.1Q95.5 438.6 95.1 438.0M94.7 437.3Q94.3 436.7 94.0 436.2M93.6 435.4Q93.3 434.9 93.0 434.3M92.7 433.5Q92.5 433.0 92.3 432.4M92.0 431.7Q91.8 431.1 91.7 430.5M104.6 419.7Q105.1 420.0 105.6 420.3M106.2 420.7Q106.7 421.1 107.3 421.4M107.9 421.9Q108.4 422.3 108.9 422.7M109.5 423.2Q110.0 423.7 110.4 424.1M111.0 424.7Q111.5 425.2 111.9 425.7M112.4 426.4Q112.9 426.9 113.3 427.4M113.7 428.1Q114.1 428.6 114.5 429.2M114.9 429.9Q115.3 430.5 115.6 431.0M116.0 431.8Q116.3 432.3 116.6 432.9M116.9 433.7Q117.1 434.2 117.3 434.8M117.6 435.5Q117.8 436.1 117.9 436.7M101.6 447.8Q101.0 447.4 100.4 446.9M99.7 446.3Q99.1 445.8 98.6 445.2M97.9 444.6Q97.3 444.0 96.8 443.4M96.2 442.7Q95.6 442.1 95.2 441.4M94.6 440.7Q94.1 440.0 93.6 439.3M93.1 438.5Q92.7 437.9 92.3 437.2M91.8 436.3Q91.5 435.6 91.1 434.9M90.7 434.1Q90.4 433.4 90.2 432.7M108.0 419.4Q108.6 419.8 109.2 420.3M109.9 420.9Q110.5 421.4 111.0 422.0M111.7 422.6Q112.3 423.2 112.8 423.8M113.4 424.5Q114.0 425.1 114.4 425.8M115.0 426.5Q115.5 427.2 116.0 427.9M116.5 428.7Q116.9 429.3 117.3 430.0M117.8 430.9Q118.1 431.6 118.5 432.3M118.9 433.1Q119.2 433.8 119.4 434.5M101.7 450.5Q101.0 450.0 100.3 449.4M99.5 448.8Q98.8 448.2 98.1 447.6M97.3 446.8Q96.7 446.2 96.1 445.5M95.3 444.7Q94.7 444.0 94.1 443.2M93.4 442.3Q92.8 441.6 92.3 440.9M91.7 439.9Q91.2 439.1 90.7 438.4M90.1 437.4Q89.7 436.6 89.3 435.8M88.8 434.8Q88.4 434.0 88.1 433.2M107.9 416.7Q108.6 417.2 109.3 417.8M110.1 418.4Q110.8 419.0 111.5 419.6M112.3 420.4Q112.9 421.0 113.5 421.7M114.3 422.5Q114.9 423.2 115.5 424.0M116.2 424.9Q116.8 425.6 117.3 426.3M117.9 427.3Q118.4 428.1 118.9 428.8M119.5 429.8Q119.9 430.6 120.3 431.4M120.8 432.4Q121.2 433.2 121.5 434.0M101.9 453.2Q101.1 452.7 100.3 452.1M99.4 451.3Q98.6 450.7 97.8 450.0M96.9 449.2Q96.2 448.4 95.4 447.7M94.6 446.8Q93.9 446.0 93.2 445.2M92.4 444.2Q91.7 443.4 91.1 442.5M90.4 441.5Q89.8 440.6 89.2 439.7M88.6 438.6Q88.0 437.7 87.6 436.8M87.0 435.7Q86.6 434.8 86.2 433.9M85.7 432.8Q85.3 431.8 85.0 430.9M107.7 414.0Q108.5 414.5 109.3 415.1M110.2 415.9Q111.0 416.5 111.8 417.2M112.7 418.0Q113.4 418.8 114.2 419.5M115.0 420.4Q115.7 421.2 116.4 422.0M117.2 423.0Q117.9 423.8 118.5 424.7M119.2 425.7Q119.8 426.6 120.4 427.5M121.0 428.6Q121.6 429.5 122.0 430.4M122.6 431.5Q123.0 432.4 123.4 433.3M123.9 434.4Q124.3 435.4 124.6 436.3M102.3 456.0Q101.4 455.4 100.5 454.8M99.4 454.0Q98.5 453.3 97.7 452.6M96.6 451.6Q95.8 450.9 95.0 450.0M94.0 449.0Q93.2 448.2 92.4 447.3M91.5 446.2Q90.7 445.3 90.0 444.3M89.2 443.2Q88.5 442.2 87.9 441.2M87.1 440.0Q86.5 439.0 85.9 438.0M85.3 436.8Q84.8 435.7 84.3 434.7M83.8 433.5Q83.3 432.4 83.0 431.4M107.3 411.2Q108.2 411.8 109.1 412.4M110.2 413.2Q111.1 413.9 111.9 414.6M113.0 415.6Q113.8 416.3 114.6 417.2M115.6 418.2Q116.4 419.0 117.2 419.9M118.1 421.0Q118.9 421.9 119.6 422.9M120.4 424.0Q121.1 425.0 121.7 426.0M122.5 427.2Q123.1 428.2 123.7 429.2M124.3 430.4Q124.8 431.5 125.3 432.5M125.8 433.7Q126.3 434.8 126.6 435.8M99.6 456.7Q98.6 456.0 97.7 455.2M96.5 454.2Q95.6 453.4 94.7 452.5M93.5 451.4Q92.6 450.5 91.8 449.5M90.7 448.3Q89.9 447.3 89.1 446.3M88.1 445.0Q87.4 444.0 86.6 442.9M85.8 441.6Q85.1 440.5 84.4 439.4M83.7 438.0Q83.1 436.9 82.5 435.7M81.9 434.4Q81.4 433.2 81.0 432.1M110.0 410.5Q111.0 411.2 111.9 412.0M113.1 413.0Q114.0 413.8 114.9 414.7M116.1 415.8Q117.0 416.7 117.8 417.7M118.9 418.9Q119.7 419.9 120.5 420.9M121.5 422.2Q122.2 423.2 123.0 424.3M123.8 425.6Q124.5 426.7 125.2 427.8M125.9 429.2Q126.5 430.3 127.1 431.5M127.7 432.8Q128.2 434.0 128.6 435.1M100.0 459.6Q98.9 458.8 97.8 458.0M96.5 456.9Q95.5 456.0 94.5 455.1M93.2 453.9Q92.2 452.9 91.3 451.9M90.1 450.6Q89.2 449.5 88.3 448.4M87.2 447.0Q86.3 445.9 85.5 444.7M84.5 443.3Q83.8 442.1 83.0 440.9M82.2 439.4Q81.5 438.2 80.9 436.9M80.2 435.4Q79.6 434.2 79.1 432.9M109.6 407.6Q110.7 408.4 111.8 409.2M113.1 410.3Q114.1 411.2 115.1 412.1M116.4 413.3Q117.4 414.3 118.3 415.3M119.5 416.6Q120.4 417.7 121.3 418.8M122.4 420.2Q123.3 421.3 124.1 422.5M125.1 423.9Q125.8 425.1 126.6 426.3M127.4 427.8Q128.1 429.0 128.7 430.3M129.4 431.8Q130.0 433.0 130.5 434.3M100.5 462.5Q99.3 461.7 98.1 460.8M96.7 459.7Q95.6 458.8 94.5 457.8M93.1 456.5Q92.0 455.5 90.9 454.4M89.6 453.0Q88.6 451.9 87.6 450.7M86.4 449.2Q85.5 448.0 84.5 446.7M83.5 445.2Q82.6 443.9 81.8 442.6M80.8 441.0Q80.0 439.6 79.3 438.3M78.5 436.6Q77.8 435.3 77.3 433.9M76.6 432.3Q76.0 430.9 75.6 429.6M109.1 404.7Q110.3 405.5 111.5 406.4M112.9 407.5Q114.0 408.4 115.1 409.4M116.5 410.7Q117.6 411.7 118.7 412.8M120.0 414.2Q121.0 415.3 122.0 416.5M123.2 418.0Q124.1 419.2 125.1 420.5M126.1 422.0Q127.0 423.3 127.8 424.6M128.8 426.2Q129.6 427.6 130.3 428.9M131.1 430.6Q131.8 431.9 132.3 433.3M133.0 434.9Q133.6 436.3 134.0 437.6M101.1 465.5Q99.9 464.7 98.6 463.8M97.1 462.6Q95.8 461.6 94.6 460.6M93.1 459.3Q91.9 458.2 90.7 457.0M89.3 455.5Q88.2 454.3 87.1 453.1M85.8 451.5Q84.7 450.2 83.7 448.8M82.5 447.2Q81.5 445.8 80.6 444.4M79.5 442.7Q78.7 441.3 77.9 439.8M77.0 438.0Q76.2 436.6 75.6 435.1M74.8 433.3Q74.2 431.9 73.6 430.4M108.5 401.7Q109.7 402.5 111.0 403.4M112.5 404.6Q113.8 405.6 115.0 406.6M116.5 407.9Q117.7 409.0 118.9 410.2M120.3 411.7Q121.4 412.9 122.5 414.1M123.8 415.7Q124.9 417.0 125.9 418.4M127.1 420.0Q128.1 421.4 129.0 422.8M130.1 424.5Q130.9 425.9 131.7 427.4M132.6 429.2Q133.4 430.6 134.0 432.1M134.8 433.9Q135.4 435.3 136.0 436.8M101.9 468.6Q100.6 467.8 99.2 466.8M97.6 465.6Q96.2 464.6 94.9 463.5M93.3 462.1Q92.0 461.0 90.7 459.7M89.2 458.2Q87.9 456.9 86.7 455.6M85.3 453.9Q84.1 452.6 83.0 451.1M81.7 449.4Q80.6 447.9 79.6 446.4M78.4 444.6Q77.4 443.1 76.6 441.5M75.5 439.6Q74.7 438.1 73.9 436.5M73.1 434.6Q72.4 433.0 71.8 431.4M107.7 398.6Q109.0 399.4 110.4 400.4M112.0 401.6Q113.4 402.6 114.7 403.7M116.3 405.1Q117.6 406.2 118.9 407.5M120.4 409.0Q121.7 410.3 122.9 411.6M124.3 413.3Q125.5 414.6 126.6 416.1M127.9 417.8Q129.0 419.3 130.0 420.8M131.2 422.6Q132.2 424.1 133.0 425.7M134.1 427.6Q134.9 429.1 135.7 430.7M136.5 432.6Q137.2 434.2 137.8 435.8M98.2 468.7Q96.8 467.6 95.3 466.5M93.6 465.0Q92.2 463.9 90.8 462.6M89.1 461.0Q87.8 459.6 86.5 458.2M84.9 456.5Q83.6 455.1 82.4 453.6M81.0 451.7Q79.8 450.2 78.7 448.6M77.4 446.6Q76.3 445.0 75.4 443.4M74.2 441.4Q73.3 439.7 72.4 438.0M71.5 436.0Q70.7 434.3 70.0 432.6M111.4 398.5Q112.8 399.6 114.3 400.7M116.0 402.2Q117.4 403.3 118.8 404.6M120.5 406.2Q121.8 407.6 123.1 409.0M124.7 410.7Q126.0 412.1 127.2 413.6M128.6 415.5Q129.8 417.0 130.9 418.6M132.2 420.6Q133.3 422.2 134.2 423.8M135.4 425.8Q136.3 427.5 137.2 429.2M138.1 431.2Q138.9 432.9 139.6 434.6M99.0 471.8Q97.5 470.7 95.9 469.6M94.1 468.1Q92.5 466.9 91.1 465.5M89.3 463.9Q87.8 462.5 86.4 461.0M84.7 459.2Q83.3 457.7 82.0 456.1M80.4 454.2Q79.2 452.5 78.0 450.9M76.5 448.8Q75.4 447.1 74.3 445.4M73.0 443.3Q72.0 441.5 71.1 439.7M70.0 437.6Q69.1 435.8 68.3 434.0M67.4 431.8Q66.7 430.0 66.1 428.2M110.6 395.4Q112.1 396.5 113.7 397.6M115.5 399.1Q117.1 400.3 118.5 401.7M120.3 403.3Q121.8 404.7 123.2 406.2M124.9 408.0Q126.3 409.5 127.6 411.1M129.2 413.0Q130.4 414.7 131.6 416.3M133.1 418.4Q134.2 420.1 135.3 421.8M136.6 423.9Q137.6 425.7 138.5 427.5M139.6 429.6Q140.5 431.4 141.3 433.2M142.2 435.4Q142.9 437.2 143.5 439.0M100.0 475.0Q98.3 473.9 96.7 472.7M94.7 471.2Q93.1 469.9 91.5 468.6M89.6 466.9Q88.0 465.4 86.5 463.9M84.6 462.0Q83.2 460.4 81.7 458.8M80.0 456.8Q78.7 455.1 77.3 453.3M75.8 451.2Q74.5 449.4 73.3 447.6M71.9 445.3Q70.8 443.5 69.8 441.6M68.6 439.3Q67.6 437.4 66.8 435.5M65.8 433.2Q65.0 431.3 64.3 429.4M109.6 392.2Q111.3 393.3 112.9 394.5M114.9 396.0Q116.5 397.3 118.1 398.6M120.0 400.3Q121.6 401.8 123.1 403.3M125.0 405.2Q126.4 406.8 127.9 408.4M129.6 410.4Q130.9 412.1 132.3 413.9M133.8 416.0Q135.1 417.8 136.3 419.6M137.7 421.9Q138.8 423.7 139.8 425.6M141.0 427.9Q142.0 429.8 142.8 431.7M143.8 434.0Q144.6 435.9 145.3 437.8M101.1 478.3Q99.3 477.2 97.6 476.0M95.5 474.4Q93.7 473.1 92.1 471.7M90.0 470.0Q88.3 468.5 86.7 466.9M84.7 465.0Q83.2 463.3 81.6 461.6M79.8 459.5Q78.3 457.7 76.9 455.9M75.2 453.7Q73.8 451.8 72.5 449.9M71.0 447.5Q69.8 445.6 68.7 443.6M67.3 441.2Q66.3 439.2 65.3 437.2M64.2 434.8Q63.3 432.8 62.6 430.8M108.5 388.9Q110.3 390.0 112.0 391.2M114.1 392.8Q115.9 394.1 117.5 395.5M119.6 397.2Q121.3 398.7 122.9 400.3M124.9 402.2Q126.4 403.9 128.0 405.6M129.8 407.7Q131.3 409.5 132.7 411.3M134.4 413.5Q135.8 415.4 137.1 417.3M138.6 419.7Q139.8 421.6 140.9 423.6M142.3 426.0Q143.3 428.0 144.3 430.0M145.4 432.4Q146.3 434.4 147.0 436.4M96.4 477.7Q94.6 476.4 92.8 475.0M90.6 473.2Q88.8 471.6 87.1 470.0M85.0 468.0Q83.3 466.3 81.7 464.6M79.7 462.4Q78.1 460.6 76.6 458.7M74.7 456.3Q73.3 454.4 71.9 452.4M70.2 449.9Q68.9 447.9 67.7 445.8M66.2 443.3Q65.0 441.2 64.0 439.1M62.8 436.5Q61.8 434.4 60.9 432.3M113.2 389.5Q115.0 390.8 116.8 392.2M119.0 394.0Q120.8 395.6 122.5 397.2M124.6 399.2Q126.3 400.9 127.9 402.6M129.9 404.8Q131.5 406.6 133.0 408.5M134.9 410.9Q136.3 412.8 137.7 414.8M139.4 417.3Q140.7 419.3 141.9 421.4M143.4 423.9Q144.6 426.0 145.6 428.1M146.8 430.7Q147.8 432.8 148.7 434.9M97.5 481.1Q95.6 479.7 93.7 478.3M91.4 476.4Q89.5 474.9 87.6 473.2M85.4 471.2Q83.6 469.5 81.8 467.6M79.7 465.4Q78.0 463.5 76.4 461.5M74.4 459.1Q72.8 457.1 71.3 455.0M69.6 452.4Q68.1 450.3 66.8 448.2M65.2 445.5Q63.9 443.3 62.8 441.1M61.4 438.4Q60.4 436.2 59.4 434.0M58.3 431.3Q57.4 429.0 56.7 426.8M112.1 386.1Q114.0 387.5 115.9 388.9M118.2 390.8Q120.1 392.3 122.0 394.0M124.2 396.0Q126.0 397.7 127.8 399.6M129.9 401.8Q131.6 403.7 133.2 405.7M135.2 408.1Q136.8 410.1 138.3 412.2M140.0 414.8Q141.5 416.9 142.8 419.0M144.4 421.7Q145.7 423.9 146.8 426.1M148.2 428.8Q149.2 431.0 150.2 433.2M151.3 435.9Q152.2 438.2 152.9 440.4M98.8 484.5Q96.7 483.2 94.7 481.7M92.3 479.8Q90.3 478.2 88.3 476.6M86.0 474.4Q84.0 472.7 82.2 470.8M79.9 468.5Q78.1 466.5 76.4 464.5M74.3 462.0Q72.6 459.9 71.0 457.8M69.0 455.1Q67.5 452.9 66.1 450.7M64.3 447.9Q63.0 445.7 61.7 443.3M60.2 440.5Q59.0 438.2 58.0 435.9M56.8 433.0Q55.8 430.7 55.0 428.3M110.8 382.7Q112.9 384.0 114.9 385.5M117.3 387.4Q119.3 389.0 121.3 390.6M123.6 392.8Q125.6 394.5 127.4 396.4M129.7 398.7Q131.5 400.7 133.2 402.7M135.3 405.2Q137.0 407.3 138.6 409.4M140.6 412.1Q142.1 414.3 143.5 416.5M145.3 419.3Q146.6 421.5 147.9 423.9M149.4 426.7Q150.6 429.0 151.6 431.3M152.8 434.2Q153.8 436.5 154.6 438.9M93.4 483.2Q91.3 481.7 89.2 479.9M86.7 477.8Q84.7 476.0 82.7 474.1M80.3 471.7Q78.4 469.7 76.5 467.6M74.3 465.0Q72.5 462.9 70.7 460.7M68.7 457.9Q67.0 455.7 65.5 453.3M63.6 450.5Q62.1 448.1 60.8 445.7M59.1 442.8Q57.9 440.3 56.7 437.9M55.3 434.9Q54.3 432.5 53.3 430.0M109.4 379.2Q111.6 380.6 113.7 382.1M116.2 384.0Q118.3 385.5 120.4 387.3M122.9 389.4Q124.9 391.2 126.9 393.1M129.3 395.5Q131.2 397.5 133.1 399.6M135.3 402.2Q137.1 404.3 138.9 406.5M140.9 409.3Q142.6 411.5 144.1 413.9M146.0 416.7Q147.5 419.1 148.8 421.5M150.5 424.4Q151.7 426.9 152.9 429.3M154.3 432.3Q155.3 434.7 156.3 437.2M100.2 488.0Q98.0 486.6 95.9 485.1M87.6 481.2Q85.4 479.4 83.4 477.5M80.8 475.0Q78.8 473.0 76.8 470.9M74.4 468.2Q72.5 466.0 70.7 463.7M68.4 460.9Q66.7 458.6 65.0 456.2M63.0 453.2Q61.4 450.7 59.9 448.2M58.2 445.2Q56.8 442.7 55.5 440.1M54.0 437.0Q52.9 434.5 51.8 431.9M115.0 380.4Q117.2 382.0 119.4 383.8M122.0 386.0Q124.2 387.8 126.2 389.7M128.8 392.2Q130.8 394.2 132.8 396.3M135.2 399.0Q137.1 401.2 138.9 403.5M141.2 406.3Q142.9 408.6 144.6 411.0M146.6 414.0Q148.2 416.5 149.7 419.0M151.4 422.0Q152.8 424.5 154.1 427.1M155.6 430.2Q156.7 432.7 157.8 435.3M94.6 486.8Q92.4 485.2 90.2 483.4M81.5 478.5Q79.3 476.4 77.3 474.2M74.7 471.5Q72.7 469.3 70.7 466.9M68.4 464.0Q66.5 461.6 64.7 459.1M62.6 456.0Q60.9 453.5 59.3 450.9M57.4 447.8Q55.9 445.1 54.5 442.5M52.9 439.3Q51.6 436.6 50.4 434.0M49.1 430.7Q48.1 428.0 47.2 425.4M113.6 376.9Q115.9 378.5 118.2 380.2M121.0 382.4Q123.2 384.3 125.4 386.3M128.1 388.7Q130.3 390.8 132.3 393.0M134.9 395.7Q136.9 397.9 138.9 400.3M141.2 403.2Q143.1 405.6 144.9 408.1M147.0 411.2Q148.7 413.7 150.3 416.3M152.2 419.4Q153.7 422.1 155.1 424.7M156.7 427.9Q158.0 430.6 159.2 433.2M160.5 436.5Q161.5 439.2 162.4 441.8M96.0 490.3Q93.7 488.7 91.4 487.0M88.6 484.8Q86.4 482.9 84.2 480.9M75.2 474.9Q73.0 472.6 71.0 470.2M68.5 467.2Q66.5 464.7 64.6 462.2M62.3 459.0Q60.4 456.4 58.7 453.8M56.7 450.5Q55.1 447.8 53.6 445.1M51.8 441.7Q50.4 438.9 49.2 436.2M47.7 432.8Q46.6 430.0 45.6 427.2M112.1 373.3Q114.5 374.9 116.9 376.6M119.8 378.8Q122.1 380.7 124.4 382.7M127.3 385.2Q129.5 387.3 131.7 389.5M134.4 392.3Q136.6 394.6 138.6 397.0M141.1 400.0Q143.1 402.5 145.0 405.0M147.3 408.2Q149.2 410.8 150.9 413.4M152.9 416.7Q154.5 419.4 156.0 422.1M157.8 425.5Q159.2 428.3 160.4 431.0M161.9 434.4Q163.0 437.2 164.0 440.0M97.5 493.9Q95.1 492.3 92.7 490.6M89.8 488.4Q87.5 486.5 85.2 484.5M82.3 482.0Q80.1 479.9 77.9 477.7M68.7 470.6Q66.6 468.0 64.6 465.4M62.1 462.2Q60.2 459.5 58.4 456.8M56.2 453.4Q54.4 450.6 52.8 447.8M50.9 444.3Q49.4 441.4 48.0 438.6M46.4 435.0Q45.2 432.2 44.1 429.3M110.4 369.6Q112.9 371.2 115.4 372.9M118.4 375.2Q120.9 377.0 123.3 379.1M126.2 381.6Q128.6 383.7 131.0 386.0M133.8 388.8Q136.1 391.1 138.2 393.6M140.9 396.6Q143.0 399.2 145.0 401.8M147.5 405.0Q149.4 407.7 151.2 410.4M153.4 413.8Q155.2 416.6 156.8 419.4M158.7 422.9Q160.2 425.8 161.6 428.6M163.2 432.2Q164.4 435.0 165.5 437.9M99.2 497.6Q96.7 496.0 94.2 494.3M91.2 492.0Q88.7 490.2 86.3 488.1M83.4 485.6Q81.0 483.5 78.6 481.2M75.8 478.4Q73.5 476.1 71.4 473.6M62.1 465.4Q60.1 462.7 58.1 459.9M55.8 456.4Q53.9 453.5 52.2 450.6M50.1 447.0Q48.5 444.1 47.0 441.1M45.3 437.5Q43.9 434.5 42.7 431.5M116.9 371.4Q119.4 373.3 122.0 375.3M125.1 377.9Q127.6 380.0 130.0 382.3M133.0 385.2Q135.4 387.6 137.7 390.1M140.5 393.2Q142.7 395.7 144.9 398.4M147.5 401.8Q149.5 404.5 151.5 407.3M153.8 410.8Q155.7 413.7 157.4 416.6M159.5 420.2Q161.1 423.1 162.6 426.1M164.3 429.7Q165.7 432.7 166.9 435.7M92.7 495.8Q90.2 493.9 87.6 491.9M84.5 489.3Q82.0 487.2 79.6 484.9M76.6 482.0Q74.2 479.6 71.9 477.1M69.1 474.0Q66.9 471.5 64.7 468.8M55.6 459.6Q53.6 456.7 51.7 453.6M49.5 449.9Q47.8 446.9 46.2 443.8M44.3 440.1Q42.8 437.0 41.5 433.9M39.9 430.1Q38.7 427.0 37.7 423.9M115.2 367.7Q117.9 369.5 120.5 371.6M123.7 374.1Q126.4 376.3 128.9 378.6M132.0 381.5Q134.5 383.9 137.0 386.4M139.9 389.6Q142.3 392.2 144.6 395.0M147.3 398.3Q149.5 401.1 151.6 404.0M154.0 407.6Q156.0 410.5 157.9 413.6M160.1 417.3Q161.8 420.3 163.4 423.4M165.3 427.1Q166.8 430.2 168.1 433.3M169.7 437.1Q170.9 440.2 171.9 443.3M94.4 499.5Q91.7 497.7 89.1 495.6M85.9 493.1Q83.2 490.9 80.7 488.6M77.6 485.7Q75.1 483.3 72.6 480.8M69.7 477.6Q67.3 475.0 65.0 472.2M62.3 468.9Q60.1 466.1 58.0 463.2M49.0 453.0Q47.2 449.9 45.4 446.7M43.4 442.8Q41.8 439.6 40.4 436.4M38.7 432.5Q37.4 429.3 36.2 426.1M113.3 363.8Q116.1 365.7 118.9 367.7M122.2 370.3Q125.0 372.5 127.6 374.8M130.9 377.7Q133.5 380.1 136.1 382.7M139.2 385.9Q141.7 388.6 144.1 391.4M147.0 394.8Q149.3 397.7 151.5 400.6M154.1 404.3Q156.2 407.3 158.2 410.4M160.6 414.2Q162.4 417.3 164.2 420.5M166.2 424.4Q167.8 427.6 169.2 430.8M170.9 434.7Q172.2 437.9 173.4 441.1M96.3 503.4Q93.5 501.5 90.7 499.5M87.4 496.9Q84.6 494.7 82.0 492.4M78.7 489.5Q76.1 487.1 73.5 484.5M70.4 481.3Q67.9 478.6 65.5 475.8M62.6 472.4Q60.3 469.5 58.1 466.6M55.5 462.9Q53.4 459.9 51.4 456.8M42.7 445.8Q40.9 442.5 39.4 439.2M37.5 435.1Q36.1 431.8 34.8 428.5M111.3 360.0Q114.2 361.8 117.1 363.8M120.6 366.4Q123.4 368.6 126.2 370.9M129.6 373.8Q132.4 376.3 135.0 378.9M138.3 382.1Q140.9 384.8 143.4 387.6M146.5 391.2Q148.9 394.1 151.2 397.1M154.0 400.8Q156.3 403.9 158.4 407.1M160.9 411.0Q162.9 414.2 164.7 417.4M166.9 421.4Q168.7 424.7 170.2 428.0M172.1 432.1Q173.5 435.4 174.8 438.7M98.3 507.2Q95.4 505.4 92.5 503.4M89.0 500.8Q86.2 498.6 83.4 496.3M80.0 493.4Q77.2 490.9 74.6 488.3M71.3 485.1Q68.7 482.4 66.2 479.6M63.1 476.0Q60.7 473.1 58.4 470.1M55.6 466.4Q53.3 463.3 51.2 460.1M48.7 456.2Q46.7 453.0 44.9 449.8"/>
<path stroke-width="0.6" d="M107.3 445.9Q106.9 445.8 106.5 445.6M106.0 445.4Q105.6 445.2 105.2 445.0M93.9 430.1Q93.8 429.7 93.7 429.2M102.3 421.3Q102.7 421.4 103.1 421.6M103.6 421.8Q104.0 422.0 104.4 422.2M115.7 437.1Q115.8 437.5 115.9 438.0M106.7 448.3Q106.2 448.0 105.7 447.8M91.5 429.8Q91.4 429.2 91.3 428.7M102.9 418.9Q103.4 419.2 103.9 419.4M118.1 437.4Q118.2 438.0 118.3 438.5M105.6 450.3Q104.9 450.0 104.3 449.6M103.6 449.2Q103.0 448.8 102.4 448.4M89.8 431.8Q89.6 431.2 89.4 430.5M89.2 429.6Q89.0 428.9 88.9 428.3M104.0 416.9Q104.7 417.2 105.3 417.6M106.0 418.0Q106.6 418.4 107.2 418.8M119.8 435.4Q120.0 436.0 120.2 436.7M120.4 437.6Q120.6 438.3 120.7 438.9M106.2 453.2Q105.5 452.8 104.8 452.5M104.0 452.0Q103.2 451.5 102.5 451.1M87.7 432.2Q87.4 431.4 87.2 430.6M86.9 429.6Q86.7 428.8 86.5 428.1M103.4 414.0Q104.1 414.4 104.8 414.7M105.6 415.2Q106.4 415.7 107.1 416.1M121.9 435.0Q122.2 435.8 122.4 436.6M122.7 437.6Q122.9 438.4 123.1 439.1M104.5 454.8Q103.7 454.4 102.9 453.9M84.7 429.8Q84.4 428.9 84.2 428.0M105.1 412.4Q105.9 412.8 106.7 413.3M124.9 437.4Q125.2 438.3 125.4 439.2M105.2 457.7Q104.3 457.3 103.4 456.7M82.5 430.2Q82.2 429.2 81.9 428.2M104.4 409.5Q105.3 409.9 106.2 410.5M127.1 437.0Q127.4 438.0 127.7 439.0M106.0 460.7Q105.0 460.2 104.0 459.6M102.8 458.9Q101.8 458.3 100.8 457.6M80.5 430.7Q80.1 429.6 79.7 428.5M79.4 427.1Q79.1 426.0 78.9 424.9M103.6 406.5Q104.6 407.0 105.6 407.6M106.8 408.3Q107.8 408.9 108.8 409.6M129.1 436.5Q129.5 437.6 129.9 438.7M130.2 440.1Q130.5 441.2 130.7 442.3M107.0 463.8Q105.9 463.2 104.8 462.6M103.4 461.9Q102.4 461.2 101.3 460.5M78.5 431.4Q78.0 430.2 77.6 428.9M77.2 427.4Q76.8 426.2 76.6 425.0M102.6 403.4Q103.7 404.0 104.8 404.6M106.2 405.3Q107.2 406.0 108.3 406.7M131.1 435.8Q131.6 437.0 132.0 438.3M132.4 439.8Q132.8 441.0 133.0 442.2M104.3 464.9Q103.1 464.2 101.9 463.5M75.1 428.0Q74.7 426.6 74.4 425.3M105.3 402.3Q106.5 403.0 107.7 403.7M134.5 439.2Q134.9 440.6 135.2 441.9M105.2 468.0Q104.0 467.3 102.7 466.5M73.0 428.7Q72.6 427.2 72.2 425.8M104.4 399.2Q105.6 399.9 106.9 400.7M136.6 438.5Q137.0 440.0 137.4 441.4M106.4 471.1Q105.0 470.4 103.6 469.6M71.1 429.5Q70.5 428.0 70.1 426.4M69.6 424.5Q69.2 423.0 68.9 421.5M103.2 396.1Q104.6 396.8 106.0 397.6M138.5 437.7Q139.1 439.2 139.5 440.8M140.0 442.7Q140.4 444.2 140.7 445.7M107.7 474.3Q106.2 473.6 104.7 472.8M102.9 471.8Q101.4 470.9 100.0 469.9M69.2 430.6Q68.6 428.9 68.1 427.2M67.5 425.2Q67.0 423.6 66.7 421.9M101.9 392.9Q103.4 393.6 104.9 394.4M106.7 395.4Q108.2 396.3 109.6 397.3M140.4 436.6Q141.0 438.3 141.5 440.0M142.1 442.0Q142.6 443.6 142.9 445.3M104.0 475.0Q102.5 474.1 100.9 473.1M65.5 426.1Q64.9 424.3 64.5 422.6M105.6 392.2Q107.1 393.1 108.7 394.1M144.1 441.1Q144.7 442.9 145.1 444.6M105.3 478.2Q103.6 477.3 102.0 476.3M63.5 427.1Q62.9 425.2 62.4 423.4M104.3 389.0Q106.0 389.9 107.6 390.9M146.1 440.1Q146.7 442.0 147.2 443.8M106.7 481.5Q105.0 480.6 103.2 479.6M61.7 428.3Q61.0 426.3 60.4 424.3M59.8 421.9Q59.3 420.0 58.9 418.1M102.9 385.7Q104.6 386.6 106.4 387.6M147.9 438.9Q148.6 440.9 149.2 442.9M149.8 445.3Q150.3 447.2 150.7 449.1M108.3 484.9Q106.5 484.0 104.6 482.9M102.3 481.6Q100.5 480.5 98.7 479.3M59.9 429.7Q59.1 427.6 58.5 425.5M57.7 422.9Q57.2 420.9 56.7 418.8M101.3 382.3Q103.1 383.2 105.0 384.3M107.3 385.6Q109.1 386.7 110.9 387.9M149.7 437.5Q150.5 439.6 151.1 441.7M151.9 444.3Q152.4 446.3 152.9 448.4M103.8 485.0Q101.8 483.9 99.9 482.7M55.8 424.1Q55.2 421.9 54.7 419.8M105.8 382.2Q107.8 383.3 109.7 384.5M153.8 443.1Q154.4 445.3 154.9 447.4M54.0 425.5Q53.2 423.2 52.6 420.9M104.3 378.8Q106.3 379.9 108.3 381.1M155.6 441.7Q156.4 444.0 157.0 446.3M105.3 488.4Q103.3 487.3 101.3 486.1M52.3 427.1Q51.4 424.6 50.7 422.2M102.5 375.3Q104.7 376.4 106.8 377.6M157.3 440.1Q158.2 442.6 158.9 445.0M107.1 491.9Q104.9 490.8 102.8 489.6M50.6 428.8Q49.7 426.2 48.9 423.7M48.0 420.6Q47.3 418.1 46.8 415.7M100.7 371.8Q102.9 372.9 105.1 374.1M107.9 375.7Q110.1 377.1 112.3 378.6M159.0 438.4Q159.9 441.0 160.7 443.5M161.6 446.6Q162.3 449.1 162.8 451.5M108.9 495.4Q106.7 494.3 104.5 493.1M101.7 491.5Q99.5 490.1 97.3 488.6M46.2 422.2Q45.4 419.5 44.8 417.0M106.1 372.1Q108.5 373.5 110.8 375.0M163.4 445.0Q164.2 447.7 164.8 450.2M103.5 495.1Q101.1 493.7 98.8 492.2M44.5 423.9Q43.6 421.1 42.9 418.4M104.3 368.6Q106.7 369.9 109.1 371.4M165.1 443.3Q166.0 446.1 166.7 448.8M105.3 498.6Q102.9 497.3 100.5 495.8M42.8 425.8Q41.8 422.9 41.0 420.1M102.2 364.9Q104.7 366.2 107.3 367.7M166.8 441.4Q167.8 444.3 168.6 447.1M107.4 502.3Q104.9 501.0 102.3 499.5M41.3 427.8Q40.2 424.9 39.3 421.9M38.3 418.3Q37.5 415.4 36.9 412.5M100.1 361.3Q102.7 362.6 105.3 364.0M108.5 365.9Q111.1 367.5 113.7 369.2M168.3 439.4Q169.4 442.3 170.3 445.3M171.3 448.9Q172.1 451.8 172.7 454.7M109.5 505.9Q106.9 504.6 104.3 503.2M101.1 501.3Q98.5 499.7 95.9 498.0M36.5 420.2Q35.6 417.1 34.9 414.1M106.5 362.1Q109.2 363.7 111.9 365.4M173.1 447.0Q174.0 450.1 174.7 453.1M103.1 505.1Q100.4 503.5 97.7 501.8M34.9 422.2Q33.9 419.0 33.1 415.9M104.3 358.4Q107.1 359.9 109.9 361.6M174.7 445.0Q175.7 448.2 176.5 451.3M105.3 508.8Q102.5 507.3 99.7 505.6M33.4 424.4Q32.3 421.1 31.3 417.9M102.0 354.6Q104.9 356.1 107.8 357.8M176.2 442.8Q177.3 446.1 178.3 449.3M107.6 512.6Q104.7 511.1 101.8 509.4"/>
<path stroke-width="0.8" d="M115.9 441.2Q115.8 441.6 115.8 442.0M109.9 446.4Q109.5 446.4 109.1 446.3M108.6 446.2Q108.2 446.2 107.8 446.0M93.7 428.7Q93.6 428.2 93.6 427.8M93.6 427.3Q93.6 426.9 93.6 426.5M93.7 426.0Q93.8 425.6 93.8 425.2M99.7 420.8Q100.1 420.8 100.5 420.9M101.0 421.0Q101.4 421.0 101.8 421.2M115.9 438.5Q116.0 439.0 116.0 439.4M116.0 439.9Q116.0 440.3 116.0 440.7M111.4 449.3Q110.9 449.3 110.5 449.2M109.9 449.2Q109.4 449.1 108.9 449.0M108.3 448.8Q107.8 448.7 107.3 448.5M91.2 428.0Q91.1 427.4 91.1 426.9M91.1 426.3Q91.0 425.7 91.1 425.2M91.1 424.6Q91.2 424.2 91.3 423.7M98.2 417.9Q98.7 417.9 99.1 418.0M99.7 418.0Q100.2 418.1 100.7 418.2M101.3 418.4Q101.8 418.5 102.3 418.7M118.4 439.2Q118.5 439.8 118.5 440.3M118.5 440.9Q118.6 441.5 118.5 442.0M118.5 442.6Q118.4 443.0 118.3 443.5M107.5 451.2Q106.9 450.9 106.3 450.7M88.7 427.5Q88.6 426.8 88.6 426.2M102.1 416.0Q102.7 416.3 103.3 416.5M120.9 439.7Q121.0 440.4 121.0 441.0M108.5 454.1Q107.8 453.9 107.1 453.6M86.3 427.1Q86.2 426.3 86.1 425.6M101.1 413.1Q101.8 413.3 102.5 413.6M123.3 440.1Q123.4 440.9 123.5 441.6M109.6 457.1Q108.8 456.8 108.0 456.5M107.1 456.1Q106.3 455.8 105.5 455.4M83.9 426.9Q83.8 426.1 83.6 425.2M100.0 410.1Q100.8 410.4 101.6 410.7M102.5 411.1Q103.3 411.4 104.1 411.8M125.7 440.3Q125.8 441.1 126.0 442.0M108.0 459.1Q107.1 458.7 106.3 458.3M81.6 426.9Q81.4 425.9 81.2 425.0M81.1 423.8Q80.9 422.8 80.9 421.9M101.6 408.1Q102.5 408.5 103.3 408.9M128.0 440.3Q128.2 441.3 128.4 442.2M128.5 443.4Q128.7 444.4 128.7 445.3M109.2 462.1Q108.2 461.8 107.2 461.3M78.7 423.6Q78.5 422.5 78.4 421.5M100.4 405.1Q101.4 405.4 102.4 405.9M130.9 443.6Q131.1 444.7 131.2 445.7M110.4 465.2Q109.4 464.8 108.3 464.4M76.3 423.6Q76.1 422.4 76.0 421.2M99.2 402.0Q100.2 402.4 101.3 402.8M133.3 443.6Q133.5 444.8 133.6 446.0M111.8 468.3Q110.7 467.9 109.5 467.4M108.1 466.8Q106.9 466.3 105.7 465.7M74.0 423.7Q73.7 422.4 73.6 421.1M97.8 398.9Q98.9 399.3 100.1 399.8M101.5 400.4Q102.7 400.9 103.9 401.5M135.6 443.5Q135.9 444.8 136.0 446.1M113.4 471.4Q112.2 471.0 110.9 470.6M109.4 470.0Q108.1 469.4 106.8 468.8M71.8 424.0Q71.4 422.6 71.2 421.2M71.0 419.5Q70.8 418.2 70.7 416.9M96.2 395.8Q97.4 396.2 98.7 396.6M100.2 397.2Q101.5 397.8 102.8 398.4M137.8 443.2Q138.2 444.6 138.4 446.0M138.6 447.7Q138.8 449.0 138.9 450.3M110.8 473.1Q109.4 472.6 108.1 471.9M68.6 419.7Q68.4 418.2 68.2 416.8M98.8 394.1Q100.2 394.6 101.5 395.3M141.0 447.5Q141.2 449.0 141.4 450.4M112.4 476.3Q110.9 475.8 109.4 475.1M66.3 420.0Q66.0 418.4 65.8 416.8M97.2 390.9Q98.7 391.4 100.2 392.1M143.3 447.2Q143.6 448.8 143.8 450.4M114.1 479.5Q112.5 479.0 111.0 478.3M109.1 477.5Q107.5 476.8 106.0 476.0M64.0 420.4Q63.7 418.7 63.5 417.0M95.5 387.7Q97.1 388.2 98.6 388.9M100.5 389.7Q102.1 390.4 103.6 391.2M145.6 446.8Q145.9 448.5 146.1 450.2M115.9 482.6Q114.3 482.2 112.7 481.6M110.7 480.8Q109.0 480.1 107.3 479.3M61.9 421.1Q61.4 419.3 61.2 417.5M60.8 415.3Q60.6 413.5 60.5 411.8M93.7 384.6Q95.3 385.0 96.9 385.6M98.9 386.4Q100.6 387.1 102.3 387.9M147.7 446.1Q148.2 447.9 148.4 449.7M148.8 451.9Q149.0 453.7 149.1 455.4M112.4 484.0Q110.6 483.4 108.9 482.6M58.5 415.7Q58.2 413.8 58.1 412.0M97.2 383.2Q99.0 383.8 100.7 384.6M151.1 451.5Q151.4 453.4 151.5 455.2M56.3 416.3Q55.9 414.3 55.7 412.4M95.4 379.9Q97.2 380.5 99.0 381.3M153.3 450.9Q153.7 452.9 153.9 454.8M114.2 487.3Q112.4 486.7 110.6 485.9M54.1 417.1Q53.6 415.0 53.4 412.9M93.4 376.6Q95.3 377.2 97.2 378.0M99.6 379.0Q101.5 379.9 103.4 380.9M155.5 450.1Q156.0 452.2 156.2 454.3M116.2 490.6Q114.3 490.0 112.4 489.2M110.0 488.2Q108.1 487.3 106.2 486.3M52.0 418.1Q51.5 415.9 51.1 413.7M50.7 411.0Q50.4 408.8 50.3 406.7M91.2 373.3Q93.2 373.9 95.2 374.6M97.7 375.6Q99.7 376.5 101.8 377.5M157.6 449.1Q158.1 451.3 158.5 453.5M158.9 456.2Q159.2 458.4 159.3 460.5M118.4 493.9Q116.4 493.3 114.4 492.6M111.9 491.6Q109.9 490.7 107.8 489.7M49.9 419.3Q49.4 416.9 48.9 414.6M48.4 411.7Q48.1 409.4 47.9 407.2M95.7 372.2Q97.8 373.0 99.9 374.0M159.7 447.9Q160.2 450.3 160.7 452.6M161.2 455.5Q161.5 457.8 161.7 460.0M113.9 495.0Q111.8 494.2 109.7 493.2M46.2 412.7Q45.8 410.2 45.5 407.9M93.5 368.8Q95.7 369.6 97.9 370.6M163.4 454.5Q163.8 457.0 164.1 459.3M116.1 498.4Q113.9 497.6 111.7 496.6M44.1 413.8Q43.6 411.3 43.3 408.8M91.2 365.4Q93.5 366.2 95.8 367.1M98.6 368.3Q100.9 369.4 103.3 370.6M165.5 453.4Q166.0 455.9 166.3 458.4M118.4 501.8Q116.1 501.0 113.8 500.1M111.0 498.9Q108.7 497.8 106.3 496.6M42.1 415.1Q41.5 412.4 41.0 409.8M40.6 406.6Q40.3 404.1 40.1 401.6M88.8 362.1Q91.1 362.7 93.5 363.6M96.5 364.8Q98.9 365.8 101.3 367.0M167.5 452.1Q168.1 454.8 168.6 457.4M169.0 460.6Q169.3 463.1 169.5 465.6M120.8 505.1Q118.5 504.5 116.1 503.6M113.1 502.4Q110.7 501.4 108.3 500.2M40.1 416.6Q39.4 413.8 38.9 411.1M38.3 407.7Q37.9 405.0 37.7 402.4M94.1 361.3Q96.6 362.3 99.1 363.4M169.5 450.6Q170.2 453.4 170.7 456.1M171.3 459.5Q171.7 462.2 171.9 464.8M115.5 505.9Q113.0 504.9 110.5 503.8M36.2 409.0Q35.7 406.1 35.4 403.4M91.7 357.8Q94.3 358.7 96.9 359.8M173.4 458.2Q173.9 461.1 174.2 463.8M117.9 509.4Q115.3 508.5 112.7 507.4M34.1 410.4Q33.5 407.5 33.1 404.6M89.1 354.3Q91.7 355.2 94.4 356.2M97.7 357.7Q100.4 358.9 103.1 360.3M175.5 456.8Q176.1 459.7 176.5 462.6M120.5 512.9Q117.9 512.0 115.2 511.0M111.9 509.5Q109.2 508.3 106.5 506.9M32.2 412.1Q31.5 409.0 31.0 405.9M30.5 402.3Q30.1 399.3 30.0 396.4M86.4 350.8Q89.1 351.6 91.9 352.7M95.3 354.0Q98.0 355.2 100.8 356.6M177.4 455.1Q178.1 458.2 178.6 461.3M179.1 464.9Q179.5 467.9 179.6 470.8M123.2 516.4Q120.5 515.6 117.7 514.5M114.3 513.2Q111.6 512.0 108.8 510.6M30.3 413.9Q29.5 410.7 28.9 407.5M28.3 403.7Q27.8 400.5 27.6 397.5M92.6 350.4Q95.5 351.5 98.4 352.8M179.3 453.3Q180.1 456.5 180.7 459.7M181.3 463.5Q181.8 466.7 182.0 469.7M117.0 516.8Q114.1 515.7 111.2 514.4"/>
<path stroke-width="1.0" d="M115.6 442.4Q115.5 442.7 115.4 443.1M115.2 443.4Q115.1 443.7 114.9 444.0M114.6 444.4Q114.4 444.6 114.2 444.8M113.9 445.1Q113.7 445.3 113.4 445.5M113.1 445.7Q112.8 445.8 112.5 446.0M112.1 446.1Q111.8 446.2 111.5 446.3M111.0 446.3Q110.7 446.4 110.3 446.4M94.0 424.8Q94.1 424.5 94.2 424.1M94.4 423.8Q94.5 423.5 94.7 423.2M95.0 422.8Q95.2 422.6 95.4 422.4M95.7 422.1Q95.9 421.9 96.2 421.7M96.5 421.5Q96.8 421.4 97.1 421.2M97.5 421.1Q97.8 421.0 98.1 420.9M98.6 420.9Q98.9 420.8 99.3 420.8M118.2 444.0Q118.1 444.5 117.9 444.9M117.7 445.4Q117.6 445.8 117.3 446.1M117.1 446.5Q116.8 446.9 116.6 447.2M116.2 447.5Q116.0 447.8 115.6 448.0M115.2 448.3Q114.9 448.5 114.5 448.7M114.1 448.8Q113.7 449.0 113.3 449.1M112.8 449.2Q112.4 449.3 111.9 449.3M91.4 423.2Q91.5 422.7 91.7 422.3M91.9 421.8Q92.0 421.4 92.3 421.1M92.5 420.7Q92.8 420.3 93.0 420.0M93.4 419.7Q93.6 419.4 94.0 419.2M94.4 418.9Q94.7 418.7 95.1 418.5M95.5 418.4Q95.9 418.2 96.3 418.1M96.8 418.0Q97.2 417.9 97.7 417.9M111.3 452.1Q110.7 452.1 110.1 451.9M109.4 451.8Q108.8 451.6 108.2 451.4M88.5 425.4Q88.5 424.8 88.5 424.2M88.5 423.4Q88.6 422.9 88.7 422.3M98.3 415.1Q98.9 415.1 99.5 415.3M100.2 415.4Q100.8 415.6 101.4 415.8M121.1 441.8Q121.1 442.4 121.1 443.0M121.1 443.8Q121.0 444.3 120.9 444.9M112.8 455.1Q112.2 455.0 111.5 454.9M110.7 454.7Q110.0 454.6 109.3 454.4M86.0 424.7Q86.0 424.0 86.0 423.3M86.0 422.4Q86.0 421.7 86.1 421.1M96.8 412.1Q97.4 412.2 98.1 412.3M98.9 412.5Q99.6 412.6 100.3 412.8M123.6 442.5Q123.6 443.2 123.6 443.9M123.6 444.8Q123.6 445.5 123.5 446.1M114.5 458.0Q113.7 458.0 113.0 457.9M112.1 457.7Q111.3 457.6 110.6 457.4M83.5 424.2Q83.4 423.3 83.4 422.5M83.4 421.5Q83.4 420.7 83.5 420.0M95.1 409.2Q95.9 409.2 96.6 409.3M97.5 409.5Q98.3 409.6 99.0 409.8M126.1 443.0Q126.2 443.9 126.2 444.7M126.2 445.7Q126.2 446.5 126.1 447.2M113.6 460.7Q112.8 460.6 111.9 460.4M110.9 460.1Q110.0 459.9 109.1 459.5M80.9 420.8Q80.8 419.9 80.9 419.0M81.0 418.0Q81.1 417.1 81.2 416.3M96.0 406.5Q96.8 406.6 97.7 406.8M98.7 407.1Q99.6 407.3 100.5 407.7M128.7 446.4Q128.8 447.3 128.7 448.2M128.6 449.2Q128.5 450.1 128.4 450.9M115.3 463.7Q114.4 463.6 113.4 463.4M112.3 463.1Q111.3 462.9 110.4 462.6M78.3 420.2Q78.3 419.2 78.3 418.2M78.4 417.0Q78.5 416.1 78.6 415.2M94.3 403.5Q95.2 403.6 96.2 403.8M97.3 404.1Q98.3 404.3 99.2 404.6M131.3 447.0Q131.3 448.0 131.3 449.0M131.2 450.2Q131.1 451.1 131.0 452.0M117.1 466.7Q116.1 466.6 115.1 466.4M113.8 466.2Q112.8 465.9 111.7 465.6M75.8 419.8Q75.7 418.7 75.8 417.6M75.8 416.3Q75.8 415.2 76.0 414.2M92.5 400.5Q93.5 400.6 94.5 400.8M95.8 401.0Q96.8 401.3 97.9 401.6M133.8 447.4Q133.9 448.5 133.8 449.6M133.8 450.9Q133.8 452.0 133.6 453.0M119.0 469.6Q118.0 469.6 116.9 469.4M115.5 469.2Q114.4 469.0 113.3 468.7M73.4 419.6Q73.2 418.4 73.2 417.2M73.2 415.7Q73.2 414.5 73.3 413.4M90.6 397.6Q91.6 397.6 92.7 397.8M94.1 398.0Q95.2 398.2 96.3 398.5M136.2 447.6Q136.4 448.8 136.4 450.0M136.4 451.5Q136.4 452.7 136.3 453.8M117.3 472.3Q116.1 472.1 114.9 471.8M70.7 415.3Q70.6 414.0 70.7 412.7M70.8 411.3Q71.0 410.1 71.2 408.9M92.3 394.9Q93.5 395.1 94.7 395.4M138.9 451.9Q139.0 453.2 138.9 454.5M138.8 455.9Q138.6 457.1 138.4 458.3M119.3 475.3Q118.0 475.1 116.7 474.9M115.1 474.5Q113.8 474.2 112.4 473.7M68.1 415.0Q68.1 413.6 68.1 412.3M68.2 410.6Q68.3 409.3 68.5 408.1M90.3 391.9Q91.6 392.1 92.9 392.3M94.5 392.7Q95.8 393.0 97.2 393.5M141.5 452.2Q141.5 453.6 141.5 454.9M141.4 456.6Q141.3 457.9 141.1 459.1M121.3 478.3Q120.0 478.2 118.6 477.9M116.9 477.6Q115.5 477.3 114.1 476.9M65.7 414.9Q65.5 413.4 65.6 411.9M65.6 410.2Q65.7 408.7 65.8 407.4M88.3 388.9Q89.6 389.0 91.0 389.3M92.7 389.6Q94.1 389.9 95.5 390.3M143.9 452.3Q144.1 453.8 144.0 455.3M144.0 457.0Q143.9 458.5 143.8 459.8M118.9 480.7Q117.4 480.4 115.9 480.0M63.2 415.0Q63.1 413.4 63.0 411.8M63.0 409.8Q63.0 408.3 63.2 406.8M86.1 385.9Q87.5 386.0 88.9 386.2M90.7 386.5Q92.2 386.8 93.7 387.2M146.4 452.2Q146.5 453.8 146.6 455.4M146.6 457.4Q146.6 458.9 146.4 460.4M123.5 481.3Q122.1 481.2 120.7 481.0M60.5 409.7Q60.4 408.0 60.5 406.4M60.7 404.5Q60.9 403.0 61.2 401.5M88.6 383.4Q90.1 383.6 91.7 384.0M149.1 457.5Q149.2 459.2 149.1 460.8M148.9 462.7Q148.7 464.2 148.4 465.7M121.0 483.8Q119.5 483.6 117.9 483.2M57.9 409.8Q57.9 408.0 57.9 406.2M58.0 404.2Q58.2 402.5 58.5 400.9M86.4 380.3Q88.0 380.5 89.6 380.9M91.7 381.4Q93.4 381.8 95.1 382.4M151.7 457.4Q151.7 459.2 151.7 461.0M151.6 463.0Q151.4 464.7 151.1 466.3M123.2 486.9Q121.6 486.7 120.0 486.3M117.9 485.8Q116.2 485.4 114.5 484.8M55.5 410.0Q55.3 408.1 55.4 406.2M55.4 404.0Q55.5 402.2 55.7 400.5M84.0 377.3Q85.7 377.4 87.4 377.7M89.6 378.2Q91.3 378.6 93.1 379.1M154.1 457.2Q154.3 459.1 154.2 461.0M154.2 463.2Q154.1 465.0 153.9 466.7M125.6 489.9Q123.9 489.8 122.2 489.5M120.0 489.0Q118.3 488.6 116.5 488.1M53.1 410.4Q52.9 408.3 52.8 406.4M52.8 404.0Q52.8 402.0 53.0 400.2M81.6 374.3Q83.3 374.4 85.1 374.6M87.3 375.0Q89.2 375.4 91.0 375.9M156.5 456.8Q156.7 458.9 156.8 460.8M156.8 463.2Q156.8 465.2 156.6 467.0M128.0 492.9Q126.3 492.8 124.5 492.6M122.3 492.2Q120.4 491.8 118.6 491.3M50.3 404.1Q50.2 402.1 50.4 400.1M50.6 397.7Q50.8 395.8 51.2 394.0M84.9 371.9Q86.9 372.2 88.8 372.7M159.3 463.1Q159.4 465.1 159.2 467.1M159.0 469.5Q158.8 471.4 158.4 473.2M124.7 495.3Q122.7 495.0 120.8 494.5M47.7 404.5Q47.7 402.3 47.7 400.2M47.9 397.7Q48.1 395.6 48.4 393.7M82.4 368.8Q84.4 369.0 86.4 369.4M88.9 370.0Q91.0 370.6 93.1 371.3M161.9 462.7Q161.9 464.9 161.9 467.0M161.7 469.5Q161.5 471.6 161.2 473.5M127.2 498.4Q125.2 498.2 123.2 497.8M120.7 497.2Q118.6 496.6 116.5 495.9M45.3 405.0Q45.1 402.7 45.2 400.5M45.2 397.8Q45.3 395.6 45.6 393.5M79.8 365.7Q81.9 365.9 83.9 366.2M86.5 366.8Q88.7 367.3 90.8 367.9M164.3 462.2Q164.5 464.5 164.4 466.7M164.4 469.4Q164.3 471.6 164.0 473.7M129.8 501.5Q127.7 501.3 125.7 501.0M123.1 500.4Q120.9 499.9 118.8 499.3M42.9 405.7Q42.7 403.3 42.6 400.9M42.6 398.1Q42.7 395.8 42.9 393.6M77.1 362.7Q79.2 362.8 81.3 363.1M84.0 363.5Q86.2 364.0 88.4 364.6M166.7 461.5Q166.9 463.9 167.0 466.3M167.0 469.1Q166.9 471.4 166.7 473.6M132.5 504.5Q130.4 504.4 128.3 504.1M125.6 503.7Q123.4 503.2 121.2 502.6M40.1 398.5Q40.0 396.1 40.2 393.8M40.5 390.9Q40.7 388.7 41.2 386.6M74.2 359.7Q76.4 359.7 78.6 360.0M81.3 360.3Q83.6 360.7 85.9 361.3M169.5 468.7Q169.6 471.1 169.4 473.4M169.1 476.3Q168.9 478.5 168.4 480.6M135.4 507.5Q133.2 507.5 131.0 507.2M128.3 506.9Q126.0 506.5 123.7 505.9M37.5 399.2Q37.5 396.6 37.5 394.1M37.7 391.2Q37.9 388.8 38.3 386.5M78.5 357.2Q80.9 357.5 83.3 358.0M86.2 358.7Q88.6 359.3 91.1 360.2M172.1 468.0Q172.1 470.6 172.1 473.1M171.9 476.0Q171.7 478.4 171.3 480.7M131.1 510.0Q128.7 509.7 126.3 509.2M123.4 508.5Q121.0 507.9 118.5 507.0M35.1 400.0Q34.9 397.3 35.0 394.7M35.0 391.5Q35.2 389.0 35.5 386.6M75.6 354.1Q78.0 354.3 80.5 354.7M83.5 355.4Q86.0 355.9 88.6 356.7M174.5 467.2Q174.7 469.9 174.6 472.5M174.6 475.7Q174.4 478.2 174.1 480.6M134.0 513.1Q131.6 512.9 129.1 512.5M126.1 511.8Q123.6 511.3 121.0 510.5M32.7 401.0Q32.5 398.2 32.4 395.5M32.4 392.1Q32.5 389.4 32.7 386.9M72.6 351.0Q75.1 351.2 77.6 351.5M80.7 352.1Q83.2 352.6 85.9 353.3M176.9 466.2Q177.1 469.0 177.2 471.7M177.2 475.1Q177.1 477.8 176.9 480.3M137.0 516.2Q134.5 516.0 132.0 515.7M128.9 515.1Q126.4 514.6 123.7 513.9M29.9 392.9Q29.8 390.1 30.0 387.4M69.5 348.1Q72.0 348.1 74.6 348.4M77.7 348.8Q80.4 349.2 83.1 349.9M179.7 474.3Q179.8 477.1 179.6 479.8M140.1 519.1Q137.6 519.1 135.0 518.8M131.9 518.4Q129.2 518.0 126.5 517.3M27.4 393.8Q27.2 390.9 27.4 388.0M27.6 384.6Q27.8 381.8 28.3 379.2M74.7 345.6Q77.4 346.0 80.1 346.6M83.5 347.4Q86.3 348.1 89.1 349.1M182.2 473.4Q182.4 476.3 182.2 479.2M182.0 482.6Q181.8 485.4 181.3 488.0M134.9 521.6Q132.2 521.2 129.5 520.6M126.1 519.8Q123.3 519.1 120.5 518.1"/>
<path stroke-width="1.2" d="M120.3 447.2Q120.1 447.7 119.9 448.1M119.6 448.6Q119.3 449.0 119.0 449.4M118.6 449.8Q118.3 450.2 117.9 450.5M117.5 450.8Q117.1 451.1 116.7 451.3M116.2 451.5Q115.7 451.7 115.3 451.9M114.7 452.0Q114.2 452.1 113.7 452.2M113.0 452.2Q112.5 452.2 112.0 452.2M88.8 421.6Q88.9 421.1 89.1 420.6M89.3 420.0Q89.5 419.5 89.7 419.1M90.0 418.6Q90.3 418.2 90.6 417.8M91.0 417.4Q91.3 417.0 91.7 416.7M92.1 416.4Q92.5 416.1 92.9 415.9M93.4 415.7Q93.9 415.5 94.3 415.3M94.9 415.2Q95.4 415.1 95.9 415.0M96.6 415.0Q97.1 415.0 97.6 415.0M120.8 445.6Q120.7 446.1 120.5 446.6M122.1 450.6Q121.8 451.1 121.5 451.5M121.1 452.1Q120.7 452.5 120.3 452.8M119.8 453.3Q119.4 453.6 118.9 453.9M118.3 454.2Q117.8 454.4 117.3 454.6M116.7 454.8Q116.1 454.9 115.5 455.0M114.8 455.1Q114.2 455.1 113.6 455.1M86.2 420.3Q86.3 419.6 86.5 419.0M86.7 418.3Q86.9 417.8 87.2 417.2M87.5 416.6Q87.8 416.1 88.1 415.7M88.5 415.1Q88.9 414.7 89.3 414.4M89.8 413.9Q90.2 413.6 90.7 413.3M91.3 413.0Q91.8 412.8 92.3 412.6M92.9 412.4Q93.5 412.3 94.1 412.2M94.8 412.1Q95.4 412.1 96.0 412.1M123.4 446.9Q123.3 447.6 123.1 448.2M122.9 448.9Q122.7 449.4 122.4 450.0M123.6 454.2Q123.2 454.7 122.8 455.1M122.2 455.6Q121.8 456.0 121.2 456.3M120.6 456.7Q120.1 457.0 119.5 457.2M118.7 457.5Q118.1 457.7 117.5 457.8M116.7 457.9Q116.0 458.0 115.3 458.0M83.6 419.0Q83.7 418.3 83.9 417.6M84.1 416.8Q84.3 416.1 84.6 415.5M84.9 414.8Q85.2 414.2 85.6 413.7M86.0 413.0Q86.4 412.5 86.8 412.1M87.4 411.6Q87.8 411.2 88.4 410.9M89.0 410.5Q89.5 410.2 90.1 410.0M90.9 409.7Q91.5 409.5 92.1 409.4M92.9 409.3Q93.6 409.2 94.3 409.2M126.0 448.2Q125.9 448.9 125.7 449.6M125.5 450.4Q125.3 451.1 125.0 451.7M124.7 452.4Q124.4 453.0 124.0 453.5M124.7 457.9Q124.2 458.3 123.7 458.7M123.0 459.2Q122.4 459.6 121.7 459.8M120.9 460.2Q120.3 460.4 119.6 460.6M118.7 460.7Q118.0 460.9 117.2 460.9M116.2 460.9Q115.5 460.9 114.6 460.8M81.5 415.4Q81.7 414.6 81.9 413.9M82.3 413.1Q82.6 412.4 83.0 411.8M83.4 411.0Q83.8 410.5 84.3 409.9M84.9 409.3Q85.4 408.9 85.9 408.5M86.6 408.0Q87.2 407.6 87.9 407.4M88.7 407.0Q89.3 406.8 90.0 406.6M90.9 406.5Q91.6 406.3 92.4 406.3M93.4 406.3Q94.1 406.3 95.0 406.4M128.1 451.8Q127.9 452.6 127.7 453.3M127.3 454.1Q127.0 454.8 126.6 455.4M126.2 456.2Q125.8 456.7 125.3 457.3M125.4 461.6Q124.8 462.0 124.1 462.4M123.2 462.8Q122.5 463.1 121.8 463.3M120.8 463.5Q120.0 463.7 119.2 463.8M118.1 463.8Q117.3 463.9 116.4 463.8M78.8 414.1Q79.0 413.2 79.3 412.4M79.6 411.5Q79.9 410.7 80.3 410.0M80.8 409.1Q81.2 408.5 81.7 407.9M82.3 407.2Q82.9 406.6 83.5 406.2M84.2 405.6Q84.8 405.2 85.5 404.8M86.4 404.4Q87.1 404.1 87.8 403.9M88.8 403.7Q89.6 403.5 90.4 403.4M91.5 403.4Q92.3 403.3 93.2 403.4M130.8 453.1Q130.6 454.0 130.3 454.8M130.0 455.7Q129.7 456.5 129.3 457.2M128.8 458.1Q128.4 458.7 127.9 459.3M127.3 460.0Q126.7 460.6 126.1 461.0M125.6 465.3Q124.9 465.7 124.1 465.9M123.0 466.2Q122.2 466.5 121.3 466.6M120.2 466.7Q119.2 466.8 118.3 466.7M76.2 413.0Q76.3 412.0 76.6 411.1M76.9 410.0Q77.3 409.2 77.6 408.3M78.1 407.4Q78.6 406.6 79.1 405.9M79.7 405.1Q80.3 404.5 80.9 403.9M81.7 403.3Q82.3 402.8 83.1 402.4M84.0 401.9Q84.7 401.5 85.5 401.3M86.6 401.0Q87.4 400.7 88.3 400.6M89.4 400.5Q90.4 400.4 91.3 400.5M133.4 454.2Q133.3 455.2 133.0 456.1M132.7 457.2Q132.3 458.0 132.0 458.9M131.5 459.8Q131.0 460.6 130.5 461.3M129.9 462.1Q129.3 462.7 128.7 463.3M127.9 463.9Q127.3 464.4 126.5 464.8M125.4 468.9Q124.5 469.2 123.5 469.4M122.3 469.5Q121.3 469.6 120.3 469.7M73.5 412.1Q73.7 411.0 73.9 409.9M74.2 408.7Q74.6 407.7 74.9 406.8M75.4 405.8Q75.9 404.9 76.4 404.1M77.1 403.2Q77.6 402.5 78.3 401.8M79.1 401.1Q79.8 400.5 80.5 400.0M81.5 399.4Q82.3 399.0 83.2 398.7M84.2 398.3Q85.1 398.0 86.1 397.8M87.3 397.7Q88.3 397.6 89.3 397.5M136.1 455.1Q135.9 456.2 135.7 457.3M135.4 458.5Q135.0 459.5 134.7 460.4M134.2 461.4Q133.7 462.3 133.2 463.1M132.5 464.0Q132.0 464.7 131.3 465.4M130.5 466.1Q129.8 466.7 129.1 467.2M128.1 467.8Q127.3 468.2 126.4 468.5M124.6 472.3Q123.5 472.5 122.4 472.5M121.1 472.6Q119.9 472.6 118.8 472.4M71.5 407.6Q71.8 406.5 72.2 405.5M72.7 404.3Q73.2 403.3 73.7 402.4M74.4 401.4Q74.9 400.6 75.6 399.8M76.4 399.0Q77.2 398.3 77.9 397.7M78.9 397.1Q79.8 396.6 80.7 396.2M81.8 395.7Q82.8 395.4 83.8 395.1M85.0 394.9Q86.1 394.7 87.2 394.7M88.5 394.6Q89.7 394.6 90.8 394.8M138.1 459.6Q137.8 460.7 137.4 461.7M136.9 462.9Q136.4 463.9 135.9 464.8M135.2 465.8Q134.7 466.6 134.0 467.4M133.2 468.2Q132.4 468.9 131.7 469.5M130.7 470.1Q129.8 470.6 128.9 471.0M127.8 471.5Q126.8 471.8 125.8 472.1M123.2 475.5Q122.0 475.5 120.8 475.4M68.8 406.6Q69.1 405.4 69.5 404.2M70.0 402.9Q70.4 401.8 70.9 400.9M71.6 399.7Q72.2 398.8 72.9 398.0M73.7 397.0Q74.5 396.2 75.3 395.6M76.3 394.8Q77.2 394.2 78.1 393.7M79.3 393.2Q80.3 392.8 81.4 392.5M82.7 392.2Q83.8 391.9 84.9 391.8M86.4 391.7Q87.6 391.7 88.8 391.8M140.8 460.6Q140.5 461.8 140.1 463.0M139.6 464.3Q139.2 465.4 138.7 466.3M138.0 467.5Q137.4 468.4 136.7 469.2M135.9 470.2Q135.1 471.0 134.3 471.6M133.3 472.4Q132.4 473.0 131.5 473.5M130.3 474.0Q129.3 474.4 128.2 474.7M126.9 475.0Q125.8 475.3 124.7 475.4M66.1 405.7Q66.4 404.4 66.7 403.2M67.2 401.7Q67.6 400.5 68.1 399.4M68.8 398.1Q69.4 397.1 70.1 396.2M71.0 395.1Q71.7 394.2 72.5 393.5M73.6 392.6Q74.5 391.9 75.5 391.4M76.7 390.7Q77.7 390.3 78.8 389.9M80.2 389.5Q81.4 389.2 82.6 389.0M84.1 388.9Q85.3 388.8 86.6 388.8M143.5 461.5Q143.2 462.8 142.9 464.0M142.4 465.5Q142.0 466.7 141.5 467.8M140.8 469.1Q140.2 470.1 139.5 471.0M138.6 472.1Q137.9 473.0 137.1 473.7M136.0 474.6Q135.1 475.3 134.1 475.8M132.9 476.5Q131.9 476.9 130.8 477.3M129.4 477.7Q128.2 478.0 127.0 478.2M125.5 478.3Q124.3 478.4 123.0 478.4M63.4 405.0Q63.6 403.6 64.0 402.3M64.4 400.6Q64.8 399.3 65.3 398.2M66.0 396.7Q66.6 395.6 67.3 394.6M68.1 393.3Q68.9 392.4 69.8 391.5M70.8 390.6Q71.8 389.8 72.8 389.1M74.0 388.4Q75.1 387.8 76.2 387.4M77.7 386.9Q78.8 386.5 80.1 386.3M81.7 386.1Q83.0 385.9 84.4 385.9M146.2 462.2Q146.0 463.6 145.6 464.9M145.2 466.6Q144.8 467.9 144.3 469.0M143.6 470.5Q143.0 471.6 142.3 472.6M141.5 473.9Q140.7 474.8 139.8 475.7M138.8 476.6Q137.8 477.4 136.8 478.1M135.6 478.8Q134.5 479.4 133.4 479.8M131.9 480.3Q130.8 480.7 129.5 480.9M127.9 481.1Q126.6 481.3 125.2 481.3M61.6 399.7Q62.0 398.3 62.5 397.0M63.2 395.4Q63.7 394.2 64.4 393.1M65.3 391.7Q66.1 390.7 66.9 389.7M68.0 388.6Q68.9 387.7 70.0 387.0M71.3 386.1Q72.4 385.5 73.5 385.0M75.0 384.4Q76.2 383.9 77.6 383.6M79.2 383.3Q80.5 383.1 82.0 383.0M83.7 383.0Q85.2 383.0 86.7 383.2M148.0 467.5Q147.6 468.9 147.1 470.2M146.4 471.8Q145.9 473.0 145.2 474.1M144.3 475.5Q143.5 476.5 142.7 477.5M141.6 478.6Q140.7 479.5 139.6 480.2M138.3 481.1Q137.2 481.7 136.1 482.2M134.6 482.8Q133.4 483.3 132.0 483.6M130.4 483.9Q129.1 484.1 127.6 484.2M125.9 484.2Q124.4 484.2 122.9 484.0M58.8 399.0Q59.2 397.5 59.7 396.0M60.3 394.3Q60.9 393.0 61.5 391.7M62.4 390.2Q63.2 389.0 64.0 388.0M65.1 386.8Q66.1 385.8 67.1 385.0M68.4 384.0Q69.5 383.2 70.8 382.6M72.3 381.9Q73.5 381.4 74.9 381.0M76.6 380.6Q78.0 380.3 79.5 380.2M81.3 380.1Q82.8 380.0 84.4 380.1M150.8 468.2Q150.4 469.7 149.9 471.2M149.3 472.9Q148.7 474.2 148.1 475.5M147.2 477.0Q146.4 478.2 145.6 479.2M144.5 480.4Q143.5 481.4 142.5 482.2M141.2 483.2Q140.1 484.0 138.8 484.6M137.3 485.3Q136.1 485.8 134.7 486.2M133.0 486.6Q131.6 486.9 130.1 487.0M128.3 487.1Q126.8 487.2 125.2 487.1M56.1 398.4Q56.4 396.8 56.8 395.2M57.4 393.3Q58.0 391.9 58.6 390.5M59.5 388.9Q60.2 387.6 61.1 386.4M62.2 385.0Q63.2 384.0 64.2 383.0M65.5 381.9Q66.7 381.1 67.9 380.4M69.5 379.6Q70.8 379.0 72.1 378.5M73.9 378.0Q75.3 377.6 76.9 377.4M78.8 377.2Q80.3 377.1 82.0 377.2M153.5 468.8Q153.2 470.4 152.8 472.0M152.2 473.9Q151.6 475.3 151.0 476.7M150.1 478.3Q149.4 479.6 148.5 480.8M147.4 482.2Q146.4 483.2 145.4 484.2M144.1 485.3Q142.9 486.1 141.7 486.8M140.1 487.6Q138.8 488.2 137.5 488.7M135.7 489.2Q134.3 489.6 132.7 489.8M130.8 490.0Q129.3 490.1 127.6 490.0M53.3 398.0Q53.6 396.2 54.0 394.5M54.6 392.5Q55.1 390.9 55.7 389.4M56.6 387.7Q57.3 386.3 58.1 385.0M59.2 383.5Q60.2 382.3 61.2 381.2M62.6 380.0Q63.7 379.1 65.0 378.2M66.6 377.3Q67.9 376.6 69.3 376.1M71.1 375.5Q72.6 375.0 74.2 374.7M76.1 374.5Q77.7 374.3 79.4 374.3M156.3 469.2Q156.0 471.0 155.6 472.7M155.0 474.7Q154.5 476.3 153.9 477.8M153.0 479.5Q152.3 480.9 151.5 482.2M150.4 483.7Q149.4 484.9 148.4 486.0M147.0 487.2Q145.9 488.1 144.6 489.0M143.0 489.9Q141.7 490.6 140.3 491.1M138.5 491.7Q137.0 492.2 135.4 492.5M133.5 492.7Q131.9 492.9 130.2 492.9M51.7 391.9Q52.2 390.1 52.8 388.5M53.6 386.6Q54.3 385.1 55.2 383.7M56.2 382.0Q57.2 380.7 58.2 379.6M59.6 378.2Q60.7 377.1 62.0 376.2M63.6 375.2Q65.0 374.4 66.4 373.7M68.2 373.0Q69.7 372.5 71.4 372.1M73.4 371.7Q75.0 371.5 76.8 371.4M79.0 371.3Q80.8 371.4 82.6 371.6M157.9 475.3Q157.4 477.1 156.8 478.7M156.0 480.6Q155.3 482.1 154.4 483.5M153.4 485.2Q152.4 486.5 151.4 487.6M150.0 489.0Q148.9 490.1 147.6 491.0M146.0 492.0Q144.6 492.8 143.2 493.5M141.4 494.2Q139.9 494.7 138.2 495.1M136.2 495.5Q134.6 495.7 132.8 495.8M130.6 495.9Q128.8 495.8 127.0 495.6M48.9 391.4Q49.3 389.5 49.9 387.8M50.6 385.7Q51.3 384.1 52.2 382.5M53.2 380.7Q54.1 379.3 55.2 378.0M56.6 376.5Q57.7 375.3 59.0 374.3M60.6 373.1Q61.9 372.2 63.4 371.5M65.3 370.7Q66.8 370.0 68.5 369.6M70.5 369.1Q72.2 368.7 74.0 368.6M76.3 368.4Q78.1 368.4 80.1 368.5M160.7 475.8Q160.3 477.7 159.7 479.4M159.0 481.5Q158.3 483.1 157.4 484.7M156.4 486.5Q155.5 487.9 154.4 489.2M153.0 490.7Q151.9 491.9 150.6 492.9M149.0 494.1Q147.7 495.0 146.2 495.7M144.3 496.5Q142.8 497.2 141.1 497.6M139.1 498.1Q137.4 498.5 135.6 498.6M133.3 498.8Q131.5 498.8 129.5 498.7M46.0 391.1Q46.4 389.1 47.0 387.2M47.7 385.0Q48.3 383.2 49.1 381.5M50.2 379.6Q51.1 378.0 52.1 376.6M53.5 375.0Q54.6 373.7 55.9 372.6M57.5 371.2Q58.9 370.2 60.4 369.4M62.2 368.4Q63.8 367.7 65.5 367.1M67.6 366.5Q69.3 366.1 71.2 365.8M73.5 365.6Q75.4 365.5 77.4 365.5M163.6 476.1Q163.2 478.1 162.6 480.0M161.9 482.2Q161.3 484.0 160.5 485.7M159.4 487.6Q158.5 489.2 157.5 490.6M156.1 492.2Q155.0 493.5 153.7 494.6M152.1 496.0Q150.7 497.0 149.2 497.8M147.4 498.8Q145.8 499.5 144.1 500.1M142.0 500.7Q140.3 501.1 138.4 501.4M136.1 501.6Q134.2 501.7 132.2 501.7M43.2 390.9Q43.6 388.8 44.1 386.8M44.7 384.4Q45.3 382.5 46.1 380.7M47.1 378.6Q48.0 376.9 49.0 375.4M50.4 373.6Q51.5 372.2 52.8 370.9M54.4 369.4Q55.7 368.3 57.2 367.4M59.1 366.3Q60.7 365.4 62.4 364.8M64.6 364.0Q66.3 363.5 68.2 363.2M70.6 362.8Q72.5 362.6 74.6 362.6M166.4 476.3Q166.0 478.4 165.5 480.4M164.9 482.8Q164.3 484.7 163.5 486.5M162.5 488.6Q161.6 490.3 160.6 491.8M159.2 493.6Q158.1 495.0 156.8 496.3M155.2 497.8Q153.9 498.9 152.4 499.8M150.5 500.9Q148.9 501.8 147.2 502.4M145.0 503.2Q143.3 503.7 141.4 504.0M139.0 504.4Q137.1 504.6 135.0 504.6M41.8 384.0Q42.4 381.9 43.1 380.0M44.1 377.7Q44.9 375.9 45.9 374.3M47.2 372.3Q48.3 370.8 49.6 369.4M51.2 367.8Q52.6 366.5 54.1 365.5M56.0 364.2Q57.6 363.3 59.3 362.5M61.5 361.7Q63.3 361.0 65.2 360.6M67.6 360.1Q69.6 359.8 71.6 359.7M167.8 483.2Q167.2 485.3 166.5 487.2M165.5 489.5Q164.7 491.3 163.7 492.9M162.4 494.9Q161.3 496.4 160.0 497.8M158.4 499.4Q157.0 500.7 155.5 501.7M153.6 503.0Q152.0 503.9 150.3 504.7M148.1 505.5Q146.3 506.2 144.4 506.6M142.0 507.1Q140.0 507.4 138.0 507.5M38.9 383.8Q39.4 381.6 40.1 379.5M41.0 377.1Q41.8 375.1 42.8 373.3M44.1 371.2Q45.1 369.5 46.4 368.0M48.0 366.3Q49.3 364.9 50.9 363.7M52.8 362.3Q54.4 361.2 56.1 360.4M58.3 359.4Q60.1 358.6 62.1 358.1M64.5 357.5Q66.5 357.1 68.6 357.0M71.3 356.8Q73.5 356.8 75.7 356.9M170.7 483.4Q170.2 485.6 169.5 487.7M168.6 490.1Q167.8 492.1 166.8 493.9M165.5 496.0Q164.5 497.7 163.2 499.2M161.6 500.9Q160.3 502.3 158.7 503.5M156.8 504.9Q155.2 506.0 153.5 506.8M151.3 507.8Q149.5 508.6 147.5 509.1M145.1 509.7Q143.1 510.1 141.0 510.2M138.3 510.4Q136.1 510.4 133.9 510.3M36.0 383.7Q36.5 381.4 37.1 379.2M38.0 376.6Q38.7 374.5 39.7 372.6M40.9 370.3Q41.9 368.5 43.2 366.8M44.8 364.9Q46.1 363.4 47.6 362.1M49.5 360.5Q51.1 359.3 52.8 358.3M55.0 357.2Q56.9 356.4 58.8 355.7M61.3 355.0Q63.4 354.5 65.5 354.2M68.2 354.0Q70.4 353.8 72.8 353.9M173.6 483.5Q173.1 485.8 172.5 488.0M171.6 490.6Q170.9 492.7 169.9 494.6M168.7 496.9Q167.7 498.7 166.4 500.4M164.8 502.3Q163.5 503.8 162.0 505.1M160.1 506.7Q158.5 507.9 156.8 508.9M154.6 510.0Q152.7 510.8 150.8 511.5M148.3 512.2Q146.2 512.7 144.1 513.0M141.4 513.2Q139.2 513.4 136.8 513.3M33.1 383.8Q33.5 381.3 34.1 379.0M34.9 376.2Q35.6 374.0 36.5 371.9M37.7 369.5Q38.7 367.5 39.9 365.8M41.5 363.7Q42.8 362.0 44.3 360.6M46.2 358.9Q47.8 357.5 49.5 356.4M51.7 355.2Q53.6 354.2 55.6 353.4M58.0 352.6Q60.1 352.0 62.3 351.6M65.1 351.2Q67.3 351.0 69.7 351.0M176.5 483.4Q176.1 485.9 175.5 488.2M174.7 491.0Q174.0 493.2 173.1 495.3M171.9 497.7Q170.9 499.7 169.7 501.4M168.1 503.5Q166.8 505.2 165.3 506.6M163.4 508.3Q161.8 509.7 160.1 510.8M157.9 512.0Q156.0 513.0 154.0 513.8M151.6 514.6Q149.5 515.2 147.3 515.6M144.5 516.0Q142.3 516.2 139.9 516.2M30.3 384.1Q30.7 381.5 31.2 379.0M31.9 376.1Q32.6 373.7 33.4 371.5M34.5 368.9Q35.5 366.8 36.7 364.9M38.2 362.6Q39.5 360.8 41.0 359.2M42.8 357.4Q44.4 355.9 46.2 354.7M48.4 353.2Q50.2 352.1 52.2 351.3M54.7 350.3Q56.8 349.6 59.0 349.1M61.8 348.6Q64.1 348.2 66.5 348.1M179.3 483.1Q178.9 485.7 178.4 488.2M177.7 491.1Q177.0 493.5 176.2 495.7M175.1 498.3Q174.1 500.4 172.9 502.3M171.4 504.6Q170.1 506.4 168.6 508.0M166.8 509.8Q165.2 511.3 163.4 512.5M161.2 514.0Q159.4 515.1 157.4 515.9M154.9 516.9Q152.8 517.6 150.6 518.1M147.8 518.6Q145.5 519.0 143.1 519.1M28.9 376.1Q29.5 373.6 30.3 371.2M31.4 368.4Q32.3 366.2 33.4 364.1M34.9 361.7Q36.2 359.7 37.6 358.0M39.4 356.0Q41.0 354.4 42.7 353.0M44.9 351.4Q46.8 350.2 48.8 349.2M51.3 348.1Q53.4 347.2 55.7 346.6M58.5 346.0Q60.8 345.5 63.2 345.3M66.3 345.2Q68.8 345.1 71.4 345.3M180.7 491.1Q180.1 493.6 179.3 496.0M178.2 498.8Q177.3 501.0 176.2 503.1M174.7 505.5Q173.4 507.5 172.0 509.2M170.2 511.2Q168.6 512.8 166.9 514.2M164.7 515.8Q162.8 517.0 160.8 518.0M158.3 519.1Q156.2 520.0 153.9 520.6M151.1 521.2Q148.8 521.7 146.4 521.9M143.3 522.0Q140.8 522.1 138.2 521.9"/>
</g>
<g transform="matrix(1 0.55 0 1 104.8 433.6)"><circle r="9" fill="#fff" stroke="#111" stroke-width="1"/></g>
</g>
<!-- 70_p9.svg -->
<g id="p9">
<path class="w" d="M614.9 268 Q614.9 265 617.4 263.2 L634.6 251.8 Q637.8 250.4 637.9 254 V300.8 L618.4 313.8 Q615 315 614.9 311.6Z"/>
<path class="k" d="M614.6 268 q-1.4 4 0 8" style="stroke-width:1.4"/>
<!-- handle recess -->
<path class="l" d="M617.6 270.6 Q617.8 268 620 266.6 L632.6 259.6 Q635.6 258.4 635.8 261.4 V268.4 Q635.6 270.6 633.6 271.6 L621 278.6 Q617.8 279.6 617.6 277Z"/>
<path class="l" d="M619.4 271.8 Q619.6 270 621.4 269 L631.6 263.4 L634.4 268.6 L621.6 275.8 Q619.6 276.4 619.4 274.6Z"/>
<path d="M631.6 263.4 L634.4 262 V268.6Z" fill="#ddd" stroke="#333" stroke-width="0.5"/>
<path class="k" d="M621 272.4 L630.6 267" style="stroke-dasharray:0.7 0.7;stroke-width:1.8;stroke:#555"/>
<!-- vent -->
<path class="t" d="M618.2 283.6 Q618.4 281.6 620.4 280.6 L633.4 273.6 Q635.4 273 635.4 275 V291 L620 299.4 Q618.2 299.8 618.2 298Z"/>
<path class="l" d="M621.6 283.4 L634.4 276.6 M621.6 285.4 L634.4 278.6 M621.6 287.4 L634.4 280.6 M621.6 289.4 L634.4 282.6 M621.6 291.4 L634.4 284.6 M621.6 293.4 L634.4 286.6 M621.6 295.4 L634.4 288.6 M621.6 297.2 L634.4 290.4 M621.6 281.6 L633.6 275.2"/>
<path class="t" d="M621.6 281.6 V297.6 M619.8 284 V298"/>
<!-- bottom box -->
<path class="w" d="M622.4 299.6 L627 297.2 V295.4 L629.4 294.2 V296 L632.6 294.4 V305.6 L627.6 309.8 L622.4 308.6Z"/>
<path class="t" d="M627 297.2 V309 M629.4 296 V307.6"/>
<path class="l" d="M618 298.6 q1.4 -1.2 3 -0.2"/>
<circle cx="619.4" cy="303.8" r="1.1" fill="#444"/>
</g>

<!-- 71_p24.svg -->
<g id="p24">
<path class="w" d="M648.6 283 Q648.6 280.4 650.6 279 L671.6 266 Q674.4 264.6 674.6 267.6 V336 Q675 340 679 343.6 Q684.6 348 684.8 354 V376 Q684.6 383 680 387.4 L669.5 396.3 L649.4 407.4 L648.6 405Z"/>
<path class="k" d="M648.8 405 V283 Q648.8 280.4 650.6 279 L671.6 266 Q674.4 264.6 674.6 267.6 V284" style="stroke-width:1.5"/>
<path class="t" d="M650.8 403 V284.6 Q650.8 282.6 652.4 281.6 L672.6 269.4"/>
<!-- top comb band -->
<path class="k" d="M652.6 283.6 L672 271.8" style="stroke-dasharray:0.7 0.8;stroke-width:2.6;stroke:#555"/>
<path class="l" d="M651.6 287.2 L672.8 274.6"/>
<path class="t" d="M652.4 288.6 L660 291 L673 283.2"/>
<!-- handle -->
<path class="l" d="M652.4 294.4 Q652.6 292.6 654 291.8 L672.4 281.6 M652.4 294.4 L654.6 298.8 L673.4 288.6 M654 291.8 L656.4 296.4 L673 287.2"/>
<path class="t" d="M668.6 283.8 L671.6 289.4"/>
<!-- inner verticals -->
<path class="t" d="M657.4 298 V343 M670.6 290 V338 M672.6 289 V336 M661 296 V340" style="stroke:#888"/>
<path class="t" d="M652.8 300 V398"/>
<circle cx="657.8" cy="335.4" r="1.1" fill="none" stroke="#333" stroke-width="0.7"/>
<!-- duct bulge -->
<path class="l" d="M651 345 Q656 342.6 662 338.6 L674.6 331.6"/>
<path class="l" d="M651 349.6 Q655 350.6 657.6 354.6 Q660.6 359.6 660.6 366 V396"/>
<path class="t" d="M654 346.6 Q660 348 663 353 Q666.4 358.6 666.6 365 V393.6"/>
<path class="l" d="M662 338.6 Q668 342 670.6 348.4 Q672.4 354 672.6 361 V390"/>
<path class="t" d="M660.6 366 L672.6 361 L684.4 355.6"/>
<path class="t" d="M668 341.6 Q674.6 344.6 677.6 350 Q679.6 354 679.8 360 V386.6"/>
<path class="t" d="M660.6 392 L672.6 386 L681 380"/>
<!-- side handle -->
<path class="l" d="M680.6 346 Q684.2 347 685.8 350.6 V371.6 Q685.4 374.6 683 375.6"/>
<path class="t" d="M683.6 349.6 V373"/>
<!-- bottom -->
<path class="l" d="M649.4 407.4 L653 400 L669.5 396.3"/>
<path class="t" d="M653 400 V394 L660.6 396"/>
<path class="k" d="M648.2 388 v5" style="stroke-width:1.4"/>
</g>

<!-- 72_p44.svg -->
<g id="p44">
<!-- long vertical pipe -->
<path class="w" d="M733.1 160 V207.6 Q733 209.8 736 210 Q739.6 209.8 739.6 207.6 V160Z"/>
<path class="t" d="M733.1 204.6 Q736 206.2 739.6 204.6 M733.1 206.6 Q736 208 739.6 206.6"/>
<!-- top-left cap -->
<path class="w" d="M731.4 146 Q733.4 143 737.6 143.6 Q741.6 145.4 742.4 150 Q742 155 738.6 156.8 Q734 157.4 731.6 154.6 Q729.8 150.6 731.4 146Z"/>
<path class="t" d="M733.8 145 Q731.8 149.4 733.8 155.4 M736 144 Q734 149 736.4 156.4"/>
<!-- outer U bend from long pipe to main body -->
<path class="w" d="M733.1 162 Q733.6 152 740 146 Q746 140.4 752 140.2 Q759 140.6 760.3 149.6 V156 L755 157 V150.4 Q754.4 146.2 751 146.2 Q746 146.8 742.6 152 Q739.6 157 739.6 164Z"/>
<path class="t" d="M736.6 162 Q737.4 153.4 742.4 148.6 Q747.4 143.4 752 143.2 Q757 143.6 757.6 150.4"/>
<path class="t" d="M744 143 Q746 145.6 745 148 M748.6 141 Q750.4 143.6 749.6 146.4"/>
<!-- neck collar -->
<path class="w" d="M754.6 152.6 Q757.6 154 760.6 152.6 V156.6 Q757.6 158.4 754.6 156.6Z"/>
<!-- main cylinder -->
<path class="w" d="M748 158.6 L758 155.6 L777.6 165.4 Q781.8 167.6 781.6 172.6 Q781 178 776.6 179.2 L773.5 179.1 L754.4 169.6 L748 166.6Z"/>
<ellipse cx="776.8" cy="172.2" rx="4.4" ry="7" class="w" transform="rotate(-12 776.8 172.2)"/>
<ellipse cx="777.6" cy="172.2" rx="3" ry="5.2" class="l" transform="rotate(-12 777.6 172.2)"/>
<path class="t" d="M770.6 163 Q768 168 769.6 176.4 M772.6 164 Q770 169 771.6 177.4"/>
<!-- block between -->
<path class="w" d="M739.6 160 L748 157 L755.6 160.4 V171 L748.6 174.4 L739.6 170.6Z"/>
<path class="l" d="M744.6 162.6 Q748 160.6 751.6 162.6 V168.6 Q748 170.6 744.6 168.6Z"/>
<path class="t" d="M739.6 164 L744.6 166 M748.6 174.4 V170"/>
<!-- lower pilot valve -->
<path class="w" d="M742 176.4 Q743 172.4 747.6 172 L752 173 L764 179.6 Q766.4 182 765.6 186 L763.4 190 L759 192.4 L744.6 184 Q741.4 181 742 176.4Z"/>
<ellipse cx="746.4" cy="177" rx="3.4" ry="4.4" class="w" transform="rotate(-20 746.4 177)"/>
<ellipse cx="746.8" cy="177" rx="2" ry="2.8" class="t" transform="rotate(-20 746.8 177)"/>
<path class="t" d="M752 173 Q749.6 177.6 751.6 184.6 M755 175 Q752.6 179.6 754.6 186.6"/>
<path class="l" d="M755.6 168 L766 173.6 V180 M760 177.4 L766 173.6"/>
<!-- bottom stubs -->
<path class="w" d="M752.4 188.6 V196.6 Q755.4 198.6 758.8 196.6 V190.6Z"/>
<path class="t" d="M752.4 194 Q755.4 195.8 758.8 194"/>
<path class="w" d="M759.4 186.6 Q762 183.4 765.6 185.4 V192.4 Q763 194.6 759.4 192.6Z"/>
<path class="t" d="M759.4 190 Q762.4 191.8 765.6 190"/>
</g>

<!-- 73_p45.svg -->
<g id="p45">
<path class="w" d="M781.6 190 L790.9 184.4 L796.5 189.3 L805.3 192.6 L808.8 196 L809.1 212.4 L792 221.4 L778.4 212 Q778.4 204 779.4 197.6 Q780 193 781.6 190Z"/>
<path class="l" d="M781.6 190 L796.4 198.4 Q793 201.6 792.2 206.4 L792 221.4"/>
<path class="l" d="M796.4 198.4 L805.3 192.6 M796.4 198.4 Q800 195.6 804 196.4 Q808.4 197.6 808.8 202"/>
<path class="l" d="M779.6 197.4 L792.8 204.6 M778.6 205.4 L792 212.6"/>
<path class="t" d="M790.9 184.4 L796.4 198.4"/>
<path class="l" d="M803 192.4 L806 191.4 L811.4 196.4 L811 198.4 L808.8 197"/>
<path class="t" d="M801 195 L803.6 193.6 L806 197"/>
<path class="t" d="M780.6 213.6 V215.6 L784.6 218 V216 M786 219 L790.6 222 L792 221.4"/>
<circle cx="799.8" cy="206.4" r="1" fill="#444"/><circle cx="806.4" cy="211.4" r="0.7" fill="#444"/><circle cx="793.8" cy="218.6" r="0.7" fill="#444"/>
</g>

<!-- 74_p35.svg -->
<g id="p35">
<!-- base plate -->
<path class="w" d="M744.7 441 L747.4 458 Q748.4 460.6 752 461 L757 461.2 L797 445.4 Q798.6 443.6 797 441.6 L794.6 440.2 L788 438Z"/>
<path class="t" d="M747 455.6 L756.6 459.2 L796.4 443"/>
<ellipse cx="752.2" cy="457.4" rx="3.4" ry="1.9" class="l"/><ellipse cx="752.2" cy="457.8" rx="2.2" ry="1.1" class="l"/>
<ellipse cx="793.2" cy="443.6" rx="3" ry="1.7" class="l"/><ellipse cx="793.2" cy="444" rx="1.9" ry="1" class="l"/>
<!-- accumulator pipe elbow -->
<path class="w" d="M725.6 410 V422 Q726 426 730 427.6 L744.6 433.6 V421.6 L738 418.6 Q735.6 417 735.6 414 V410Z"/>
<path class="t" d="M729 411 V420.6 Q729.4 423.6 732.6 425 L744.6 430"/>
<path class="t" d="M732.6 411 Q733.6 418 739 421 L744.6 423.6"/>
<!-- accumulator body -->
<path class="w" d="M716.6 366 Q717 360.4 731.2 359.4 Q745.6 360.4 745.9 366 V406 Q744.6 411 731.2 411.6 Q718 411 716.6 406Z"/>
<path class="w" d="M728.2 362 V352.6 Q731.4 350.8 734.6 352.6 V362"/>
<ellipse cx="731.4" cy="352.8" rx="1.9" ry="0.9" class="t"/>
<path class="l" d="M716.6 366 Q720 371 731.2 371.4 Q742.6 371 745.9 366"/>
<path class="l" d="M716.6 373.4 Q720 378.4 731.2 378.8 Q742.6 378.4 745.9 373.4"/>
<path class="l" d="M716.6 377.4 Q720 382.4 731.2 382.8 Q742.6 382.4 745.9 377.4"/>
<path class="l" d="M716.6 381.6 Q720 386.6 731.2 387 Q742.6 386.6 745.9 381.6"/>
<path class="l" d="M716.6 386 Q720 391 731.2 391.4 Q742.6 391 745.9 386"/>
<path class="w" d="M733.6 381.6 L738.6 380.6 V386.4 L733.6 387.2Z"/>
<path class="w" d="M738.6 380.6 L740.6 380 V386 L738.6 386.4Z" style="fill:#bbb"/>
<path class="t" d="M717.6 405 Q721 409 731.2 409.4 Q741.6 409 745 405"/>
<!-- compressor body -->
<path class="w" d="M744.6 376 Q745 363 766 361.8 Q787 363 787.4 376 V440 Q786 450.6 766 451 Q746 450.6 744.6 440Z"/>
<path class="l" d="M744.6 376 Q747 387.4 766 387.8 Q785 387.4 787.4 376"/>
<path class="t" d="M744.6 378.6 Q747 390 766 390.4 Q785 390 787.4 378.6"/>
<path class="t" d="M747.6 376 Q749.6 366 766 365.2 Q782.4 366 784.4 376 Q782 384.6 766 385 Q750 384.6 747.6 376Z"/>
<path class="t" d="M748 441 Q751 448 766 448.4 Q781 448 784 441"/>
<!-- top pipe -->
<path class="w" d="M762.9 367.4 V358.4 Q765.4 356.8 768 358.4 V367.4"/>
<ellipse cx="765.4" cy="358.6" rx="1.7" ry="0.8" class="t"/>
<!-- terminal -->
<path class="l" d="M764.6 372 Q764.4 369.6 767 369 L772 367 Q774 366.8 775 368.4 L782.6 376.6 Q783 378.4 781 379 L775.6 380.4 Q773.6 380.6 772.4 379Z"/>
<path d="M767.4 371.4 q1.6 -3.4 5 -2.6 q2.6 1 2 4 q-1.4 2.6 -4.6 2.2 q-2.6 -0.8 -2.4 -3.6z" fill="#1c1c1c"/>
<!-- sensor rod 59 -->
<path d="M772 367.6 L795 378.6" stroke="#111" stroke-width="4.2" stroke-linecap="butt" fill="none"/>
<path d="M772.6 367.9 L794.4 378.3" stroke="#fff" stroke-width="2.6" stroke-linecap="butt" fill="none"/>
<path class="k" d="M780.6 365.6 L782.6 363.6 L784 368" />
<path d="M792 375.6 l3.6 1.6 l-1.4 3.4 l-3.6 -1.6z" fill="#222"/>
<!-- wire -->
<path class="l" d="M796 379 Q806 386 808.6 400 L809.6 415"/>
<path class="l" d="M797 377.6 Q808.6 385 811 400 L811.6 415"/>
<path class="t" d="M796.6 378.2 L799.6 375.2 M798 379.4 L801.4 377.6"/>
<!-- connector -->
<path class="w" d="M805.8 418.6 L809.4 415 L814.6 416.8 V425 L810.6 428.8 L805.8 427Z" style="stroke:#111;stroke-width:1"/>
<path class="l" d="M805.8 418.6 L810.6 420.4 V428.8 M810.6 420.4 L814.6 416.8"/>
</g>

<!-- 75_small.svg -->
<g id="p23">
<!-- spout -->
<path class="w" d="M376.6 423 Q378 427.6 383 429.6 L399 441.6 Q403 443 406 439.6 Q408.4 435.6 406.6 432.4 L392 422Z"/>
<path class="l" d="M392.6 425.4 Q390 430 392.4 435.4 M394.8 427 Q392.2 431.6 394.6 437 M397 428.6 Q394.4 433.2 396.8 438.6 M399.2 430.2 Q396.6 434.8 399 440.2 M401.2 431.8 Q398.8 436 400.8 441"/>
<ellipse cx="403.4" cy="437" rx="2.9" ry="4.7" class="w" transform="rotate(28 403.4 437)"/>
<!-- flange -->
<ellipse cx="383.1" cy="412.6" rx="17.1" ry="10.6" class="w" style="stroke:#222;stroke-width:1"/>
<ellipse cx="383.6" cy="416" rx="10.4" ry="5.6" class="w" style="stroke:#222;stroke-width:1"/>
<!-- cylinder -->
<path class="w" d="M375.2 406.6 V416.4 Q378 420 383.9 420.2 Q390 420 392.6 416.4 V406.6Z" style="stroke:#111;stroke-width:1.2"/>
<ellipse cx="383.9" cy="406.5" rx="8.6" ry="4.8" class="w" style="stroke:#111;stroke-width:1.2"/>
<ellipse cx="384.4" cy="406.6" rx="3.6" ry="3" class="l" style="fill:#ddd"/>
<path class="t" d="M375.2 410.6 Q378 414.2 383.9 414.4 Q390 414.2 392.6 410.6"/>
<path class="l" d="M377.4 414.4 l4 1.4 v3.6 M379.6 413.6 v3"/>
</g>
<g id="p6061">
<!-- base -->
<path class="w" d="M381.8 518.2 H403.2 V520.6 H381.8Z"/>
<path d="M384.7 516.2 H400.2 V518.3 H384.7Z" fill="#333"/>
<!-- lower big -->
<path class="w" d="M378.2 510.6 Q378.2 509.2 380 508.6 L383 504.6 H401.4 L405 508.6 Q406.8 509.2 406.8 510.6 V514 Q406.6 515.8 403 516 H382 Q378.4 515.8 378.2 514Z"/>
<path class="l" d="M378.6 509.4 H406.4"/>
<path class="t" d="M379 514 H406"/>
<!-- mid ring -->
<path class="w" d="M380 499 Q380 497.9 382 497.9 H402.4 Q404.4 497.9 404.4 499 V502 Q404.4 503.4 402.4 503.4 L401.4 504.6 H383 L382 503.4 Q380 503.4 380 502Z"/>
<path class="t" d="M380.4 502 H404"/>
<!-- upper ring -->
<path class="w" d="M383 493.4 Q383 492.4 384.6 492.4 H399.8 Q401.4 492.4 401.4 493.4 V497.9 H383Z"/>
<path class="t" d="M383.4 494.8 H401"/>
<!-- washer & nut & bolt -->
<path d="M389 490.4 H396.4 V492.4 H389Z" fill="#222"/>
<path class="w" d="M382.4 488.4 H401.4 V490.6 H382.4Z"/>
<path class="w" d="M386.6 483 H397.8 V488.4 H386.6Z"/>
<path class="l" d="M392.8 483 V488.4"/>
<path d="M389.6 478.6 Q389.6 478 390.6 478 H394.6 Q395.6 478 395.6 478.6 V483 H389.6Z" fill="#555" stroke="#222" stroke-width="0.6"/>
</g>
<g id="p43">
<!-- wire -->
<path class="w" d="M574.4 431.6 Q571.4 440 571.2 448 V457 L574 458 V448 Q574.2 440.6 576.8 432.6Z"/>
<path class="l" d="M574 458 Q576.6 466 574.6 473 Q573 477 570.6 476.4 Q568.6 475.4 569 472"/>
<path class="t" d="M572 459 Q574.4 466 573 472"/>
<!-- ring body -->
<path class="w" d="M542 452.4 V463 Q544 469.6 554 469.8 Q563 469.6 565.8 464 V452.4Z"/>
<ellipse cx="553.9" cy="452" rx="12" ry="6.7" class="w"/>
<ellipse cx="554.2" cy="452.2" rx="5.8" ry="3.5" class="l"/>
<ellipse cx="554.6" cy="452.8" rx="4" ry="2.3" class="t"/>
<!-- connector block -->
<path class="w" d="M560.8 460.4 L565.6 457 L573 458.4 V467.6 L568.6 471.6 L560.8 470Z" style="stroke:#111;stroke-width:1"/>
<path class="l" d="M560.8 460.4 L568.6 462 V471.6 M568.6 462 L573 458.4 M564.6 461.2 V470.8"/>
</g>
<g id="p42">
<!-- side pipe -->
<path class="w" d="M546 503.6 H540 Q534 503.8 533.8 509.6 V523.6 Q535.6 525 537.6 523.6 V510.6 Q537.8 507.6 540.6 507.4 H546Z"/>
<!-- stem -->
<path class="w" d="M549.8 507 V526.4 Q551.8 527.8 553.9 526.4 V507Z"/>
<!-- cylinder -->
<path class="w" d="M545.8 487.4 V510.6 Q547.6 513.8 551.6 513.8 Q555.6 513.8 557.4 510.6 V487.4Z"/>
<ellipse cx="551.6" cy="487.2" rx="5.8" ry="2.8" class="w"/>
<ellipse cx="551.8" cy="487.2" rx="2.6" ry="1.2" class="t"/>
<!-- collar -->
<path class="k" d="M544.6 503.6 Q548 506.4 552 506.4 Q557 506.2 559.6 503.4 L561.4 505 Q557.6 508.6 552 508.8 Q547 508.6 544.6 506.4"/>
</g>

<!-- 90_labels.svg -->
<text class="n" x="557.7" y="40.9">4</text>
<line class="ld" x1="553.8" y1="41.1" x2="517" y2="63.8"/>
<line class="ah" x1="517" y1="63.8" x2="522.4" y2="62.9"/>
<line class="ah" x1="517" y1="63.8" x2="520.3" y2="59.4"/>
<text class="n" x="378.7" y="86.6" textLength="15.6" lengthAdjust="spacingAndGlyphs">30</text>
<line class="ld" x1="389.1" y1="90" x2="447.5" y2="128.5"/>
<line class="ah" x1="447.5" y1="128.5" x2="444.4" y2="124.0"/>
<line class="ah" x1="447.5" y1="128.5" x2="442.1" y2="127.4"/>
<text class="n" x="359.6" y="105.7">7</text>
<line class="ld" x1="366.8" y1="105.7" x2="433.2" y2="148.8"/>
<line class="ah" x1="433.2" y1="148.8" x2="430.0" y2="144.3"/>
<line class="ah" x1="433.2" y1="148.8" x2="427.8" y2="147.7"/>
<text class="n" x="329.4" y="136.6" textLength="15.6" lengthAdjust="spacingAndGlyphs">10</text>
<line class="ld" x1="344.4" y1="140" x2="463.6" y2="218"/>
<line class="ah" x1="463.6" y1="218" x2="460.4" y2="213.5"/>
<line class="ah" x1="463.6" y1="218" x2="458.2" y2="216.9"/>
<text class="n" x="293.9" y="173.4">1</text>
<line class="ld" x1="303.8" y1="175.5" x2="419.8" y2="253.8"/>
<line class="ah" x1="419.8" y1="253.8" x2="416.7" y2="249.3"/>
<line class="ah" x1="419.8" y1="253.8" x2="414.4" y2="252.6"/>
<text class="n" x="263.7" y="207.7" textLength="15.6" lengthAdjust="spacingAndGlyphs">52</text>
<line class="ld" x1="278.3" y1="210.2" x2="357.3" y2="263.6"/>
<line class="ah" x1="357.3" y1="263.6" x2="354.2" y2="259.0"/>
<line class="ah" x1="357.3" y1="263.6" x2="351.9" y2="262.4"/>
<text class="n" x="228" y="243.8" textLength="15.6" lengthAdjust="spacingAndGlyphs">21</text>
<line class="ld" x1="245.2" y1="246.7" x2="276.9" y2="268.6"/>
<line class="ah" x1="276.9" y1="268.6" x2="273.9" y2="264.0"/>
<line class="ah" x1="276.9" y1="268.6" x2="271.5" y2="267.4"/>
<text class="n" x="88.8" y="260.7">5</text>
<line class="ld" x1="96" y1="262.7" x2="138.3" y2="289.6"/>
<line class="ah" x1="138.3" y1="289.6" x2="135.1" y2="285.1"/>
<line class="ah" x1="138.3" y1="289.6" x2="132.9" y2="288.6"/>
<text class="n" x="187" y="286.8" textLength="15.6" lengthAdjust="spacingAndGlyphs">62</text>
<line class="ld" x1="202.2" y1="287.6" x2="265.7" y2="332.4"/>
<line class="ah" x1="265.7" y1="332.4" x2="262.7" y2="327.8"/>
<line class="ah" x1="265.7" y1="332.4" x2="260.4" y2="331.1"/>
<text class="n" x="9.6" y="341.7" textLength="15.6" lengthAdjust="spacingAndGlyphs">20</text>
<line class="ld" x1="27.6" y1="345.2" x2="74" y2="374.2"/>
<line class="ah" x1="74" y1="374.2" x2="70.7" y2="369.8"/>
<line class="ah" x1="74" y1="374.2" x2="68.6" y2="373.2"/>
<text class="n" x="677" y="226">9</text>
<line class="ld" x1="676" y1="228.5" x2="638" y2="255"/>
<line class="ah" x1="638" y1="255" x2="643.4" y2="253.8"/>
<line class="ah" x1="638" y1="255" x2="641.0" y2="250.4"/>
<text class="n" x="704.5" y="266" textLength="15.6" lengthAdjust="spacingAndGlyphs">24</text>
<line class="ld" x1="703" y1="268.5" x2="664" y2="292"/>
<line class="ah" x1="664" y1="292" x2="669.4" y2="291.1"/>
<line class="ah" x1="664" y1="292" x2="667.3" y2="287.6"/>
<text class="n" x="814.5" y="113.7" textLength="15.6" lengthAdjust="spacingAndGlyphs">44</text>
<line class="ld" x1="813" y1="114" x2="760.5" y2="148"/>
<line class="ah" x1="760.5" y1="148" x2="765.9" y2="146.9"/>
<line class="ah" x1="760.5" y1="148" x2="763.7" y2="143.5"/>
<text class="n" x="832" y="159.4" textLength="15.6" lengthAdjust="spacingAndGlyphs">45</text>
<line class="ld" x1="832" y1="162" x2="798" y2="189"/>
<line class="ah" x1="798" y1="189" x2="803.3" y2="187.4"/>
<line class="ah" x1="798" y1="189" x2="800.7" y2="184.2"/>
<text class="n" x="838.9" y="351.5" textLength="15.6" lengthAdjust="spacingAndGlyphs">59</text>
<line class="ld" x1="838" y1="354" x2="800" y2="381"/>
<line class="ah" x1="800" y1="381" x2="805.3" y2="379.7"/>
<line class="ah" x1="800" y1="381" x2="803.0" y2="376.4"/>
<text class="n" x="441.6" y="397.2" textLength="15.6" lengthAdjust="spacingAndGlyphs">23</text>
<line class="ld" x1="438" y1="397.5" x2="403" y2="412"/>
<line class="ah" x1="403" y1="412" x2="408.5" y2="411.9"/>
<line class="ah" x1="403" y1="412" x2="406.9" y2="408.2"/>
<text class="n" x="433.6" y="474.5" textLength="15.6" lengthAdjust="spacingAndGlyphs">60</text>
<line class="ld" x1="431" y1="476" x2="399" y2="486"/>
<line class="ah" x1="399" y1="486" x2="404.5" y2="486.4"/>
<line class="ah" x1="399" y1="486" x2="403.3" y2="482.5"/>
<text class="n" x="435.9" y="500" textLength="15.6" lengthAdjust="spacingAndGlyphs">61</text>
<line class="ld" x1="433" y1="501" x2="408" y2="511"/>
<line class="ah" x1="408" y1="511" x2="413.5" y2="511.0"/>
<line class="ah" x1="408" y1="511" x2="412.0" y2="507.2"/>
<text class="n" x="612.5" y="445" textLength="15.6" lengthAdjust="spacingAndGlyphs">43</text>
<line class="ld" x1="609" y1="443" x2="577" y2="456"/>
<line class="ah" x1="577" y1="456" x2="582.5" y2="456.0"/>
<line class="ah" x1="577" y1="456" x2="581.0" y2="452.2"/>
<text class="n" x="591.9" y="494.8" textLength="15.6" lengthAdjust="spacingAndGlyphs">42</text>
<line class="ld" x1="588" y1="494" x2="558" y2="509"/>
<line class="ah" x1="558" y1="509" x2="563.5" y2="508.5"/>
<line class="ah" x1="558" y1="509" x2="561.7" y2="504.9"/>
<text class="n" x="618.9" y="177.6">8</text>
<line class="ld" x1="617" y1="179" x2="568" y2="210.4"/>
<circle cx="568" cy="210.4" r="1.3" fill="#333"/>
<text class="n" x="838.9" y="455.5" textLength="15.6" lengthAdjust="spacingAndGlyphs">35</text>
<line class="ld" x1="836" y1="449" x2="777" y2="427"/>
<circle cx="777" cy="427" r="1.3" fill="#333"/>
<text class="n" x="549" y="396">6</text>
<text class="n" x="588.8" y="369" textLength="35.6" lengthAdjust="spacingAndGlyphs">37,41</text>
<text class="n" x="577.9" y="396.4" textLength="35.8" lengthAdjust="spacingAndGlyphs">36,40</text>
<path class="u" d="M541.9 400.8H562.7V338"/>
<path class="u" d="M618 400.8H575.4V343"/>
<path class="u" d="M624.9 374.4H583.8V337"/>
<text class="h" x="690.2" y="499.8" textLength="15.3" lengthAdjust="spacingAndGlyphs">63</text>
<text class="h" x="714.6" y="499.8" textLength="138.2" lengthAdjust="spacingAndGlyphs">HOLDER SENSOR(TE)</text>
<text class="h" x="690.2" y="518" textLength="15.3" lengthAdjust="spacingAndGlyphs">64</text>
<text class="h" x="714.6" y="518" textLength="138.8" lengthAdjust="spacingAndGlyphs">HOLDER SENSOR(TS)</text>
<text class="h" x="690.2" y="536.4" textLength="15.3" lengthAdjust="spacingAndGlyphs">65</text>
<text class="h" x="714.6" y="536.4" textLength="141" lengthAdjust="spacingAndGlyphs">HOLDER SENSOR(TD)</text>
</svg>
</body></html>
